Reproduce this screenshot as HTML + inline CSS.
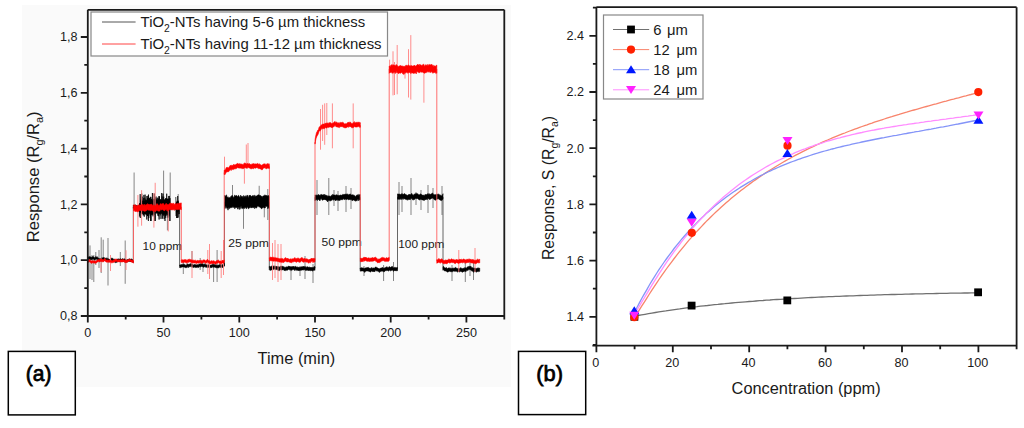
<!DOCTYPE html>
<html><head><meta charset="utf-8"><title>Figure</title>
<style>html,body{margin:0;padding:0;background:#fff;width:1024px;height:428px;overflow:hidden;font-family:"Liberation Sans",sans-serif}svg{display:block}</style>
</head><body>
<svg width="1024" height="428" viewBox="0 0 1024 428"><rect x="22" y="5" width="489" height="382" fill="#fafafa"/><text x="142.6" y="249.9" font-size="11.6" textLength="39.6" lengthAdjust="spacingAndGlyphs" font-family="Liberation Sans, sans-serif" fill="#1a1a1a">10 ppm</text><text x="228.2" y="246.9" font-size="11.6" textLength="40.7" lengthAdjust="spacingAndGlyphs" font-family="Liberation Sans, sans-serif" fill="#1a1a1a">25 ppm</text><text x="321.4" y="245.8" font-size="11.6" textLength="40.4" lengthAdjust="spacingAndGlyphs" font-family="Liberation Sans, sans-serif" fill="#1a1a1a">50 ppm</text><text x="398.2" y="247.8" font-size="11.6" textLength="46.2" lengthAdjust="spacingAndGlyphs" font-family="Liberation Sans, sans-serif" fill="#1a1a1a">100 ppm</text><path d="M90 245.4V279M92 255V280M93.8 255V282M95.8 252V265M99 250V268M101.2 237.3V273M103.2 239.7V262M108 238V285.5M120.3 252V266M125.2 240.5V283.8M134.1 172.5V207M163.6 170.6V207M170.2 172.5V221M167.4 207V230.4M178.2 194V207M183.3 262V274M192 251V268M200.2 258V270M203 262V272M213.6 262V282M217.1 250V282M232.5 185V203M259.2 185.8V203M267.8 189V220M243.5 203V228.8M264.3 203V217.3M291 266V280M300 266V276M305 256V279M313 264V283M317 180V215M328.8 178V215M334 190V206M338 191V211M346 186V212M351 188V209M364 266V276M383.6 265V281M393.5 262V281M399 182V215M402 186V212M411 178V215M416 192V205M421 190V210M428 185V213M433 188V208M442 186V215M452 265V281M465.3 262V282M473.5 262V280M470 262V276" fill="none" stroke="#707070" stroke-width="0.85"/><path d="M133.3 261V207M179.6 207V265.8M224.5 265.8V201.9M269.3 201.9V268.4M315 268.4V197.3M360.2 197.3V269.4M397.5 269.4V196.9M443 196.9V269.5" fill="none" stroke="#555" stroke-width="0.9"/><path d="M139.3 207.2 L139.4 216.5 L139.5 215.6 L139.6 203.4 L139.7 204.9 L139.8 203.3 L139.9 211 L140 206.6 L140.1 212.2 L140.2 194.1 L140.3 218 L140.4 206.3 L140.5 211.8 L140.6 206 L140.7 204.3 L140.8 210.2 L140.9 212.8 L141 205.6 L141.1 205.9 L141.2 211.8 L141.3 200.9 L141.4 196.4 L141.5 209.8 L141.6 202.3 L141.7 193.6 L141.8 201.3 L141.9 203.7 L142 198.6 L142.1 196.6 L142.2 207.3 L142.3 213.3 L142.4 205.4 L142.5 201.8 L142.6 209.7 L142.7 212 L142.8 204.9 L142.9 210.8 L143 214.3 L143.1 205.6 L143.2 201.3 L143.3 209.4 L143.4 208.7 L143.5 214.7 L143.6 198 L143.7 202.4 L143.8 201.1 L143.9 194.9 L144 207.9 L144.1 210.7 L144.2 201.8 L144.3 216.7 L144.4 212.8 L144.5 211.4 L144.6 209.8 L144.7 213.7 L144.8 197.7 L144.9 211.3 L145 211.2 L145.1 194.6 L145.2 209.4 L145.3 205.2 L145.4 212.5 L145.5 203.9 L145.6 206.9 L145.7 209.4 L145.8 200.9 L145.9 211.2 L146 206.3 L146.1 210.4 L146.2 203.3 L146.3 214.6 L146.4 211.2 L146.5 205.8 L146.6 211.4 L146.7 215.8 L146.8 219.5 L146.9 196 L147.1 213.2 L147.2 210.3 L147.3 206.3 L147.4 200 L147.5 215.8 L147.6 198.2 L147.7 211 L147.8 216.1 L147.9 195.8 L148 204.9 L148.1 197.8 L148.2 208.7 L148.3 217.6 L148.4 221 L148.5 194.6 L148.6 203 L148.7 211.9 L148.8 218.1 L148.9 209.9 L149 201.8 L149.1 209.1 L149.2 206.9 L149.3 205.6 L149.4 201.9 L149.5 209.7 L149.6 209.2 L149.7 206.3 L149.8 205.4 L149.9 198 L150 203.6 L150.1 215.4 L150.2 205.7 L150.3 196.9 L150.4 216.3 L150.5 210.7 L150.6 221 L150.7 207.4 L150.8 203.8 L150.9 196.9 L151 216.3 L151.1 221 L151.2 201.3 L151.3 202.5 L151.4 211.2 L151.5 201.2 L151.6 205.1 L151.7 204.6 L151.8 208.3 L151.9 214.7 L152 207.2 L152.1 213.4 L152.2 204.1 L152.3 209.3 L152.4 193 L152.5 196.9 L152.6 212.6 L152.7 202.9 L152.8 211.1 L152.9 210.8 L153 216.3 L153.1 212.7 L153.2 214.1 L153.3 206.2 L153.4 202.1 L153.5 201.9 L153.6 203.6 L153.7 199.1 L153.8 203.2 L153.9 206.4 L154 208.8 L154.1 204.6 L154.2 193.5 L154.3 206.5 L154.4 208.6 L154.5 214.6 L154.6 211 L154.7 202.5 L154.8 201.9 L154.9 221 L155 212.3 L155.1 219.8 L155.2 221 L155.3 201.3 L155.4 209.7 L155.5 210.2 L155.6 210.9 L155.7 210.8 L155.8 208.4 L155.9 208.2 L156 196.5 L156.1 205.8 L156.2 201.8 L156.3 207.9 L156.4 203.7 L156.5 211.3 L156.6 212.7 L156.7 209.2 L156.8 209.2 L156.9 207.7 L157 203.9 L157.1 205.8 L157.2 203.5 L157.3 209.7 L157.4 207.1 L157.5 211.1 L157.6 197.7 L157.7 213.2 L157.8 201.7 L157.9 201.9 L158 205.6 L158.1 203.1 L158.2 209 L158.3 203 L158.4 199.5 L158.5 201.1 L158.6 216.2 L158.7 207.3 L158.8 198.8 L158.9 207.1 L159 196.1 L159.1 219.5 L159.2 196.3 L159.3 210.4 L159.4 210.8 L159.5 196.8 L159.6 209.1 L159.7 214 L159.8 210.3 L159.9 208.8 L160 213.6 L160.1 208.1 L160.2 209.4 L160.3 206.1 L160.4 211.4 L160.5 200.4 L160.6 212.5 L160.7 203.5 L160.8 199.4 L160.9 209.6 L161 218.9 L161.1 213.7 L161.2 203.4 L161.3 211.9 L161.4 203.8 L161.5 206.1 L161.6 207.6 L161.7 193 L161.8 208.3 L161.9 199.8 L162 202.1 L162.1 196.7 L162.2 196.4 L162.3 200.4 L162.4 212.8 L162.6 218.7 L162.7 206.8 L162.8 214.6 L162.9 205.2 L163 193.6 L163.1 208 L163.2 210.1 L163.3 204 L163.4 209.1 L163.5 211 L163.6 201 L163.7 196.7 L163.8 205.5 L163.9 205.5 L164 204.5 L164.1 213.9 L164.2 219.1 L164.3 204.1 L164.4 211.9 L164.5 213.6 L164.6 212 L164.7 214.3 L164.8 204.3 L164.9 212.2 L165 221 L165.1 212.6 L165.2 202.7 L165.3 211.3 L165.4 215.8 L165.5 209.6 L165.6 203.1 L165.7 217.8 L165.8 198.3 L165.9 210.5 L166 206.9 L166.1 198.6 L166.2 215.5 L166.3 209.4 L166.4 198.8 L166.5 211.2 L166.6 204 L166.7 193.7 L166.8 202.2 L166.9 208.8 L167 211.4 L167.1 208.2 L167.2 207.3 L167.3 210.3 L167.4 205.5 L167.5 215.2 L167.6 208 L167.7 209.1 L167.8 210.8 L167.9 199.6 L168 202 L168.1 217.7 L168.2 209.3 L168.3 205 L168.4 209.4 L168.5 203.6 L168.6 208.9 L168.7 202.3 L168.8 208.9 L168.9 196 L169 216.3 L169.1 203.4 L169.2 195.9 L169.3 205.4 L169.4 204.4 L169.5 208.1 L169.6 199 L169.7 209.8 L169.8 221 L169.9 198 L170 209.4 L170.1 204.8 L170.2 208.3M175.8 197 L175.9 200.7 L176 209.5 L176.1 206.8 L176.2 216 L176.3 203.1 L176.4 208 L176.5 218 L176.7 202.8 L176.8 202 L176.9 206.8 L177 206.8 L177.1 211.6 L177.2 207.7 L177.3 202.8 L177.4 208.2 L177.5 218 L177.6 214 L177.7 196 L177.8 206.2 L177.9 202.2 L178 210.4 L178.1 206 L178.2 217.6 L178.3 212.1 L178.5 211.9 L178.6 208 L178.7 206.8 L178.8 208.9 L178.9 214.1 L179 209.9 L179.1 205.1 L179.2 214" fill="none" stroke="#000" stroke-width="0.7" stroke-linejoin="round"/><path d="M140.5 198.8 L141 200.8 L141.5 199.6 L142 198.9 L142.5 200.7 L143 201.2 L143.5 201 L144 200.7 L144.5 201.6 L145 200.8 L145.5 198.9 L146 199.3 L146.5 200.6 L147 198.9 L147.5 199.6 L148 198.9 L148.5 199.7 L149 198.6 L149.5 197.9 L150 198.4 L150.5 201.1 L151 198.7 L151.5 199.2 L152 198.3 L152.5 200.9 L153 199.2 L153.5 200.2 L154 197.9 L154.5 199.6 L155 199.1 L155.5 196.8 L156 197.6 L156.5 198.6 L157 200.1 L157.5 199.8 L158 198.7 L158.5 198 L159 200.3 L159.5 201.1 L160 200.5 L160.5 198.8 L161 199.5 L161.5 200.7 L162 199.8 L162.5 199.2 L163 201.4 L163.5 199.2 L164 198.8 L164.5 199.4 L165 199.5 L165.5 198.1 L166 199.1 L166.5 197.9 L167 199.3 L167.5 198.5 L168 198 L168.5 199.6 L169 198.3 L169.5 200.1 L169.5 214.8 L169 214.2 L168.5 215.5 L168 214.7 L167.5 212.5 L167 214.5 L166.5 214.1 L166 216.1 L165.5 215.7 L165 212.8 L164.5 215.7 L164 214.2 L163.5 216.2 L163 216 L162.5 213.5 L162 214.3 L161.5 214.1 L161 213.2 L160.5 215.4 L160 215.4 L159.5 213.4 L159 213.8 L158.5 213.3 L158 216.1 L157.5 215.8 L157 212.6 L156.5 214 L156 213.6 L155.5 212.1 L155 214.5 L154.5 212.9 L154 213.9 L153.5 214.5 L153 214.8 L152.5 214.8 L152 214.4 L151.5 214.8 L151 215.7 L150.5 214.5 L150 214.3 L149.5 213.5 L149 214.1 L148.5 213.7 L148 214.6 L147.5 213.1 L147 215.7 L146.5 213.5 L146 215.7 L145.5 214.3 L145 214.2 L144.5 214.1 L144 213.9 L143.5 215.5 L143 216.4 L142.5 213.3 L142 214.1 L141.5 214.7 L141 213.5 L140.5 213.1ZM176.3 200.1 L176.8 201.7 L177.3 200.9 L177.8 200.9 L178.3 200.3 L178.8 201.3 L178.8 211.4 L178.3 211.6 L177.8 212.3 L177.3 212.4 L176.8 212.4 L176.3 212.5Z" fill="#000"/><path d="M87.8 256.6 L88.3 256.9 L88.8 256.9 L89.3 256.6 L89.8 256.8 L90.3 256.8 L90.8 257.1 L91.3 257.1 L91.8 257.5 L92.3 256.6 L92.8 256.7 L93.3 256.5 L93.8 257 L94.3 257.7 L94.8 257.6 L95.3 257.3 L95.8 256.4 L96.3 256.8 L96.8 257.3 L97.3 256.7 L97.8 258 L98.3 258 L98.8 258.3 L99.3 258.6 L99.8 258.8 L100.3 258.6 L100.8 258.3 L101.3 258.8 L101.8 257.8 L102.3 258 L102.8 257.7 L103.3 258 L103.8 257.2 L104.3 258 L104.8 257.9 L105.3 257.9 L105.8 258.4 L106.3 258.4 L106.8 257.7 L107.3 258.9 L107.8 258.4 L108.3 259 L108.8 258.9 L109.3 259.3 L109.8 259.5 L110.3 258.8 L110.8 258.4 L111.3 258.1 L111.8 258.4 L112.3 258.1 L112.8 259.1 L113.3 258.8 L113.8 259.4 L114.3 259.2 L114.8 259.5 L115.3 259.9 L115.8 260.5 L116.3 260.1 L116.8 259.8 L117.3 259.3 L117.8 258.8 L118.3 258.9 L118.8 259 L119.3 259.2 L119.8 259 L120.3 258.9 L120.8 258.7 L121.3 259.3 L121.8 259.2 L122.3 258.7 L122.8 258.7 L123.3 259.3 L123.8 258.8 L124.3 259.1 L124.8 258.8 L125.3 259.8 L125.8 260.1 L126.3 259.8 L126.8 260 L127.3 259.4 L127.8 259.6 L128.3 259.4 L128.8 258.9 L129.3 259 L129.8 258.8 L130.3 259.5 L130.8 259.1 L131.3 259.2 L131.8 258.8 L132.3 259.8 L132.8 259.7 L133.3 260 L133.3 262.6 L132.8 262.3 L132.3 262.1 L131.8 261.2 L131.3 261.4 L130.8 261.5 L130.3 262 L129.8 261.2 L129.3 261.4 L128.8 261.1 L128.3 261.5 L127.8 261.7 L127.3 262 L126.8 262.5 L126.3 262.2 L125.8 262.6 L125.3 262.3 L124.8 261.6 L124.3 261.5 L123.8 261.1 L123.3 261.7 L122.8 261.2 L122.3 261.1 L121.8 261.7 L121.3 261.5 L120.8 260.9 L120.3 261.1 L119.8 261.6 L119.3 261.4 L118.8 261.1 L118.3 261.3 L117.8 261.6 L117.3 261.9 L116.8 262.2 L116.3 262.4 L115.8 262.7 L115.3 262.6 L114.8 262.1 L114.3 262 L113.8 261.7 L113.3 261.6 L112.8 261.6 L112.3 260.8 L111.8 260.7 L111.3 260.2 L110.8 260.9 L110.3 261.3 L109.8 261.7 L109.3 261.8 L108.8 261.5 L108.3 261.5 L107.8 261.2 L107.3 261.4 L106.8 260.2 L106.3 260.7 L105.8 260.7 L105.3 260.3 L104.8 260.7 L104.3 260.3 L103.8 259.7 L103.3 260.4 L102.8 260 L102.3 260.4 L101.8 260.6 L101.3 261.3 L100.8 260.8 L100.3 261.2 L99.8 261.2 L99.3 260.8 L98.8 260.7 L98.3 260.3 L97.8 260.1 L97.3 259.2 L96.8 259.4 L96.3 259 L95.8 258.9 L95.3 259.6 L94.8 259.9 L94.3 259.9 L93.8 259.2 L93.3 259 L92.8 259 L92.3 259.4 L91.8 259.9 L91.3 259.4 L90.8 259.7 L90.3 259.6 L89.8 259.7 L89.3 259 L88.8 259.4 L88.3 259.5 L87.8 259.1ZM133.3 205 L133.8 205.5 L134.3 206 L134.8 205.3 L135.3 204.8 L135.8 205.2 L136.3 205.4 L136.8 205.5 L137.3 205.5 L137.8 205.6 L138.3 205.3 L138.8 205.5 L139.3 206 L139.8 205.8 L140.3 205.5 L140.8 205.1 L141.4 204.4 L141.9 205.1 L142.4 205.3 L142.9 205.6 L143.4 205.2 L143.9 205.4 L144.4 205.5 L144.9 205.4 L145.4 205.8 L145.9 205.7 L146.4 204.8 L146.9 205.5 L147.4 206.3 L147.9 205.6 L148.4 206.6 L148.9 206.7 L149.4 207.2 L149.9 206.8 L150.4 206 L150.9 205.7 L151.4 205.7 L151.9 205.7 L152.4 204.4 L152.9 205.2 L153.4 205 L153.9 204.8 L154.4 205.4 L154.9 205 L155.4 205.2 L155.9 205.4 L156.4 205.8 L157 206.3 L157.5 206.2 L158 206.1 L158.5 205.9 L159 206.8 L159.5 205.7 L160 206.3 L160.5 205.3 L161 206.5 L161.5 206.1 L162 205.9 L162.5 205.7 L163 205 L163.5 205.3 L164 204.5 L164.5 204.5 L165 204.2 L165.5 204.5 L166 204.8 L166.5 205.1 L167 205.2 L167.5 204.5 L168 205.2 L168.5 204.7 L169 204.4 L169.5 205.3 L170 205.1 L170.5 205.7 L171 205.6 L171.5 205.6 L172.1 205.5 L172.6 205.6 L173.1 205.4 L173.6 205.5 L174.1 205.7 L174.6 205.7 L175.1 205.9 L175.6 205.7 L176.1 205.6 L176.6 206 L177.1 206.4 L177.6 206.3 L178.1 206.7 L178.6 206.1 L179.1 206.4 L179.6 206.4 L179.6 209.8 L179.1 209.8 L178.6 209.8 L178.1 210.1 L177.6 209.4 L177.1 209.5 L176.6 209.5 L176.1 208.8 L175.6 208.7 L175.1 209.3 L174.6 209.1 L174.1 208.5 L173.6 209.1 L173.1 208.9 L172.6 208.6 L172.1 208.8 L171.5 209.2 L171 208.5 L170.5 209.1 L170 208 L169.5 208.4 L169 208 L168.5 207.8 L168 208.1 L167.5 207.9 L167 208.1 L166.5 208.4 L166 208.4 L165.5 208.2 L165 207.5 L164.5 207.5 L164 207.7 L163.5 208.6 L163 208.6 L162.5 209.2 L162 208.6 L161.5 209.6 L161 209.7 L160.5 209 L160 209.5 L159.5 209.4 L159 210.1 L158.5 209.3 L158 209.3 L157.5 209 L157 209.5 L156.4 209.3 L155.9 208.8 L155.4 208.3 L154.9 208.6 L154.4 208.8 L153.9 208.1 L153.4 208.5 L152.9 208.5 L152.4 208.1 L151.9 208.6 L151.4 209.1 L150.9 208.9 L150.4 209.2 L149.9 210.1 L149.4 210.3 L148.9 210 L148.4 209.5 L147.9 208.7 L147.4 209.6 L146.9 209 L146.4 208.5 L145.9 208.7 L145.4 209 L144.9 208.4 L144.4 208.3 L143.9 208.9 L143.4 208.6 L142.9 209 L142.4 208.5 L141.9 208.7 L141.4 208.4 L140.8 208.5 L140.3 209 L139.8 209.1 L139.3 209.7 L138.8 209.1 L138.3 208.9 L137.8 208.7 L137.3 208.6 L136.8 208.4 L136.3 208.3 L135.8 208.6 L135.3 208.1 L134.8 208.6 L134.3 209.2 L133.8 208.5 L133.3 208.4ZM179.6 265 L180.1 265 L180.6 264.7 L181.1 264.5 L181.6 264.6 L182.1 264.7 L182.6 264.3 L183.1 264.3 L183.6 264.3 L184.1 264.4 L184.6 264.2 L185.1 264.9 L185.7 265.2 L186.2 264.9 L186.7 265.2 L187.2 263.6 L187.7 264.2 L188.2 264.7 L188.7 264.1 L189.2 263.9 L189.7 264.3 L190.2 264.1 L190.7 263.5 L191.2 263.7 L191.7 264.3 L192.2 264.2 L192.7 264.6 L193.2 264.8 L193.7 264.9 L194.2 264.8 L194.7 264.2 L195.2 264.9 L195.7 264.5 L196.2 264.7 L196.8 265.1 L197.3 264.4 L197.8 264.9 L198.3 264.5 L198.8 264.8 L199.3 264 L199.8 264 L200.3 264.2 L200.8 263.8 L201.3 263.5 L201.8 264 L202.3 263.7 L202.8 264 L203.3 264.3 L203.8 264.6 L204.3 264.2 L204.8 263.8 L205.3 263.9 L205.8 265.1 L206.3 264.8 L206.8 264.8 L207.3 265 L207.9 265 L208.4 264.7 L208.9 264.8 L209.4 264.7 L209.9 264.8 L210.4 265.3 L210.9 264.9 L211.4 264.9 L211.9 264.8 L212.4 264.2 L212.9 264.2 L213.4 264.6 L213.9 264.5 L214.4 264.7 L214.9 264.5 L215.4 265.3 L215.9 264.5 L216.4 265.1 L216.9 265.5 L217.4 265 L217.9 265.4 L218.4 265.1 L219 265.1 L219.5 264.4 L220 264.8 L220.5 264.5 L221 264.4 L221.5 264.9 L222 264.5 L222.5 264.7 L223 264.3 L223.5 263.9 L224 263.6 L224.5 263.5 L224.5 266.1 L224 266.5 L223.5 266.7 L223 267.4 L222.5 267.5 L222 267.3 L221.5 267.3 L221 266.9 L220.5 267.5 L220 267.3 L219.5 266.8 L219 267.9 L218.4 267.8 L217.9 268 L217.4 267.5 L216.9 268.2 L216.4 267.4 L215.9 267.4 L215.4 267.5 L214.9 267.3 L214.4 267.1 L213.9 267.4 L213.4 267.1 L212.9 266.8 L212.4 266.9 L211.9 267.8 L211.4 267.5 L210.9 267.5 L210.4 267.7 L209.9 267.3 L209.4 267.4 L208.9 267.5 L208.4 267.3 L207.9 267.5 L207.3 267.4 L206.8 267.2 L206.3 267.3 L205.8 267.4 L205.3 266.8 L204.8 266.8 L204.3 266.7 L203.8 267.4 L203.3 267 L202.8 267.1 L202.3 266.5 L201.8 266.6 L201.3 266.5 L200.8 266.7 L200.3 266.9 L199.8 266.6 L199.3 266.7 L198.8 267.5 L198.3 267.3 L197.8 267.6 L197.3 267 L196.8 267.6 L196.2 267.3 L195.7 267.5 L195.2 267.4 L194.7 267.1 L194.2 267.2 L193.7 267.7 L193.2 267.1 L192.7 267.2 L192.2 266.7 L191.7 266.5 L191.2 266.6 L190.7 266.4 L190.2 266.8 L189.7 266.8 L189.2 266.7 L188.7 266.7 L188.2 267.8 L187.7 267.3 L187.2 266.5 L186.7 267.5 L186.2 267.8 L185.7 267.9 L185.1 267.3 L184.6 267.2 L184.1 267 L183.6 267 L183.1 266.9 L182.6 266.9 L182.1 267.1 L181.6 267.3 L181.1 267.2 L180.6 267.6 L180.1 267.7 L179.6 267.6ZM224.5 195.6 L225 195.4 L225.5 197 L226 195.2 L226.5 194.9 L227 197.1 L227.5 197.5 L228 196.7 L228.5 198 L229 197.8 L229.5 197.6 L230 197.4 L230.5 197.2 L231 196.2 L231.5 196.3 L232.1 195.2 L232.6 195.8 L233.1 197.1 L233.6 197.4 L234.1 196.8 L234.6 195.2 L235.1 195.5 L235.6 196.1 L236.1 195.4 L236.6 195.5 L237.1 196.5 L237.6 196.4 L238.1 195.7 L238.6 195.3 L239.1 196.6 L239.6 196.9 L240.1 197.5 L240.6 195.2 L241.1 196.5 L241.6 195.9 L242.1 197.4 L242.6 196.4 L243.1 197.5 L243.6 195.6 L244.1 195.8 L244.6 197 L245.1 197.3 L245.6 195.9 L246.1 195.5 L246.6 197.4 L247.2 195.1 L247.7 195.5 L248.2 197.4 L248.7 197.1 L249.2 195.1 L249.7 195.9 L250.2 195.2 L250.7 195.6 L251.2 196.5 L251.7 196.3 L252.2 195.9 L252.7 195.5 L253.2 196.8 L253.7 195.4 L254.2 196.6 L254.7 195.2 L255.2 195.6 L255.7 196.9 L256.2 196 L256.7 195.9 L257.2 195.6 L257.7 195 L258.2 195 L258.7 194.7 L259.2 194.9 L259.7 195.4 L260.2 195.6 L260.7 195.6 L261.2 196.3 L261.7 196.2 L262.3 197.5 L262.8 196.1 L263.3 196.1 L263.8 195.7 L264.3 195.7 L264.8 194.8 L265.3 195 L265.8 196.1 L266.3 195.6 L266.8 195.5 L267.3 195.6 L267.8 196.2 L268.3 195.6 L268.8 195.6 L269.3 196.9 L269.3 208.5 L268.8 207.2 L268.3 208.1 L267.8 208.8 L267.3 206 L266.8 206.5 L266.3 206.2 L265.8 206 L265.3 207.9 L264.8 207.9 L264.3 208 L263.8 207.4 L263.3 207.1 L262.8 208.2 L262.3 207.1 L261.7 208.9 L261.2 208.6 L260.7 207.2 L260.2 207.7 L259.7 206.4 L259.2 207.2 L258.7 206.1 L258.2 206.4 L257.7 206.3 L257.2 206.2 L256.7 208 L256.2 208.1 L255.7 207.5 L255.2 207.8 L254.7 208.7 L254.2 207 L253.7 207.6 L253.2 207.7 L252.7 207.7 L252.2 207 L251.7 207.9 L251.2 207.7 L250.7 206.5 L250.2 208 L249.7 208 L249.2 207.1 L248.7 208.8 L248.2 208.6 L247.7 207.5 L247.2 206.7 L246.6 208.4 L246.1 208.7 L245.6 207.3 L245.1 207.8 L244.6 207.8 L244.1 208.8 L243.6 207.8 L243.1 208.1 L242.6 208.6 L242.1 208.6 L241.6 208.3 L241.1 206.3 L240.6 207 L240.1 209.2 L239.6 209.4 L239.1 207.3 L238.6 207 L238.1 209.3 L237.6 208.9 L237.1 207.1 L236.6 207.8 L236.1 207.1 L235.6 207.5 L235.1 208.4 L234.6 208.5 L234.1 207 L233.6 206.7 L233.1 207.7 L232.6 206.5 L232.1 207.5 L231.5 207.6 L231 207.6 L230.5 207.7 L230 208.3 L229.5 208.6 L229 207.6 L228.5 207.9 L228 210.2 L227.5 208 L227 207.9 L226.5 206.6 L226 208.6 L225.5 207.2 L225 205.7 L224.5 208.5ZM269.3 266.3 L269.8 266.5 L270.3 266.6 L270.8 266.7 L271.3 266.3 L271.8 266.1 L272.3 266.2 L272.8 266.2 L273.3 266.2 L273.8 265.9 L274.3 266.2 L274.8 265.7 L275.3 266.1 L275.8 267 L276.3 266.6 L276.8 266.1 L277.3 266.9 L277.8 266.4 L278.3 267 L278.8 266.6 L279.3 267.2 L279.8 266.8 L280.3 266.2 L280.9 266.2 L281.4 266.1 L281.9 266.6 L282.4 265.9 L282.9 266.4 L283.4 266.5 L283.9 267.3 L284.4 267.5 L284.9 266.7 L285.4 267.5 L285.9 267.3 L286.4 266.9 L286.9 266.7 L287.4 267 L287.9 266.5 L288.4 266.3 L288.9 266 L289.4 266.5 L289.9 266.3 L290.4 266.8 L290.9 267 L291.4 266.9 L291.9 266.6 L292.4 266.7 L292.9 266.2 L293.4 266.7 L293.9 266.1 L294.4 266.9 L294.9 267.2 L295.4 266.2 L295.9 266.6 L296.4 266.9 L296.9 267.3 L297.4 267.2 L297.9 266.8 L298.4 267.3 L298.9 267.5 L299.4 266.9 L299.9 267.4 L300.4 266.9 L300.9 267.2 L301.4 266.8 L301.9 266.7 L302.4 266.7 L302.9 266.4 L303.4 266.6 L304 266.2 L304.5 267 L305 266.4 L305.5 266.8 L306 267.4 L306.5 267.2 L307 266.5 L307.5 266.9 L308 267.1 L308.5 267.3 L309 267.3 L309.5 267.1 L310 267.5 L310.5 267.6 L311 267 L311.5 267.7 L312 267.3 L312.5 267.6 L313 267.7 L313.5 267.1 L314 267.4 L314.5 266.3 L315 267 L315 270.4 L314.5 270.1 L314 270.2 L313.5 270.3 L313 270.7 L312.5 271 L312 270.8 L311.5 270.5 L311 270.6 L310.5 270.7 L310 270.6 L309.5 270.5 L309 270.2 L308.5 270.5 L308 270.8 L307.5 270 L307 270.2 L306.5 270.3 L306 270.6 L305.5 270.4 L305 269.5 L304.5 269.7 L304 269.8 L303.4 270 L302.9 269.9 L302.4 269.9 L301.9 270.2 L301.4 269.9 L300.9 270.6 L300.4 270.1 L299.9 270.6 L299.4 270.2 L298.9 271 L298.4 270.2 L297.9 270.4 L297.4 270.2 L296.9 270.5 L296.4 270.2 L295.9 269.3 L295.4 270.1 L294.9 270.7 L294.4 269.9 L293.9 269.5 L293.4 269.6 L292.9 269.3 L292.4 270.1 L291.9 270.1 L291.4 270.2 L290.9 270.6 L290.4 269.8 L289.9 269.7 L289.4 269.8 L288.9 269.4 L288.4 269.2 L287.9 270 L287.4 270.2 L286.9 270.2 L286.4 270.2 L285.9 270.6 L285.4 270.6 L284.9 269.9 L284.4 270.8 L283.9 270.3 L283.4 269.6 L282.9 270.1 L282.4 269.7 L281.9 270.2 L281.4 270 L280.9 269.5 L280.3 270.1 L279.8 270.1 L279.3 270.7 L278.8 270.4 L278.3 270.4 L277.8 270.3 L277.3 269.5 L276.8 269.3 L276.3 269.8 L275.8 269.9 L275.3 269 L274.8 269.1 L274.3 269.2 L273.8 269.3 L273.3 269.6 L272.8 269.3 L272.3 269.6 L271.8 269.9 L271.3 270 L270.8 270.3 L270.3 270.3 L269.8 270.3 L269.3 269.8ZM315 194.8 L315.5 195.1 L316 195.6 L316.5 194.9 L317 195.2 L317.5 195.2 L318 194.7 L318.5 194.6 L319 194.9 L319.5 195 L320 195.7 L320.5 194.7 L321 194.4 L321.5 194.4 L322 195 L322.5 194.8 L323 195.3 L323.5 194.5 L324 195.2 L324.5 194.3 L325 195.7 L325.5 195 L326 194.8 L326.6 196 L327.1 195.5 L327.6 196.3 L328.1 196.3 L328.6 195.9 L329.1 195.9 L329.6 195.9 L330.1 196.5 L330.6 196.6 L331.1 195.7 L331.6 195.2 L332.1 195.6 L332.6 194.4 L333.1 194.4 L333.6 195 L334.1 195.1 L334.6 195.1 L335.1 195.3 L335.6 195.2 L336.1 194.6 L336.6 195 L337.1 195 L337.6 195.3 L338.1 195.5 L338.6 195.3 L339.1 195.3 L339.6 195.5 L340.1 195.1 L340.6 194.9 L341.1 195.6 L341.6 195 L342.1 194.9 L342.6 194.4 L343.1 194.7 L343.6 194.4 L344.1 194 L344.6 194.5 L345.1 194.5 L345.6 194.1 L346.1 194.1 L346.6 194.5 L347.1 193.7 L347.6 194.6 L348.1 194.2 L348.6 195.3 L349.2 194.3 L349.7 194.6 L350.2 193.8 L350.7 194.6 L351.2 194.9 L351.7 194.9 L352.2 195.1 L352.7 194.6 L353.2 195.4 L353.7 194.8 L354.2 195.6 L354.7 195.7 L355.2 196.2 L355.7 196.4 L356.2 195.7 L356.7 195.1 L357.2 195.3 L357.7 194.7 L358.2 194.3 L358.7 195.4 L359.2 194.9 L359.7 194.6 L360.2 194.5 L360.2 200 L359.7 199.9 L359.2 199.5 L358.7 200.8 L358.2 199.6 L357.7 199.3 L357.2 200.8 L356.7 200.5 L356.2 200.9 L355.7 201.3 L355.2 200.7 L354.7 200.7 L354.2 200.2 L353.7 200.1 L353.2 200 L352.7 200.5 L352.2 200.7 L351.7 200.2 L351.2 199.2 L350.7 199.8 L350.2 199.4 L349.7 199.4 L349.2 199.7 L348.6 199.9 L348.1 199.2 L347.6 198.9 L347.1 199.5 L346.6 199.5 L346.1 199.3 L345.6 199.3 L345.1 199 L344.6 199.6 L344.1 199.5 L343.6 199 L343.1 198.8 L342.6 199.8 L342.1 199.7 L341.6 199.4 L341.1 200.1 L340.6 200.1 L340.1 199.6 L339.6 200.8 L339.1 200.1 L338.6 200 L338.1 200.7 L337.6 200.1 L337.1 199.8 L336.6 199.9 L336.1 200.4 L335.6 201 L335.1 200.1 L334.6 199.3 L334.1 199.9 L333.6 200.2 L333.1 199.4 L332.6 199.3 L332.1 200.3 L331.6 200.2 L331.1 200.2 L330.6 201.1 L330.1 200.7 L329.6 200.8 L329.1 200.2 L328.6 200.6 L328.1 200.5 L327.6 201.9 L327.1 200.4 L326.6 200.6 L326 200 L325.5 199.7 L325 199.9 L324.5 199 L324 200 L323.5 199.6 L323 200 L322.5 200.2 L322 199.9 L321.5 198.8 L321 198.8 L320.5 198.9 L320 200.9 L319.5 200.5 L319 199.7 L318.5 199.4 L318 199.6 L317.5 200.6 L317 199.4 L316.5 199.8 L316 199.9 L315.5 200.1 L315 200.6ZM360.2 268 L360.7 267.9 L361.2 267.8 L361.7 267.7 L362.2 267.8 L362.7 268.1 L363.2 267.9 L363.7 268.2 L364.2 268.4 L364.7 268.6 L365.2 267.8 L365.7 268.1 L366.2 267.9 L366.8 267.5 L367.3 267.6 L367.8 267.6 L368.3 267.3 L368.8 268.1 L369.3 268.2 L369.8 268.1 L370.3 268.6 L370.8 268.3 L371.3 267.4 L371.8 268.2 L372.3 267.8 L372.8 268.5 L373.3 268.1 L373.8 267.9 L374.3 268.1 L374.8 268.2 L375.3 267 L375.8 267.1 L376.3 267.3 L376.8 267.4 L377.3 267.7 L377.8 268 L378.3 268.5 L378.9 268.5 L379.4 269 L379.9 268.3 L380.4 268.3 L380.9 268.1 L381.4 267.9 L381.9 268 L382.4 267.3 L382.9 268.3 L383.4 267.8 L383.9 268.8 L384.4 267.8 L384.9 268.1 L385.4 267.7 L385.9 267.1 L386.4 267.3 L386.9 266.6 L387.4 267.5 L387.9 267.4 L388.4 267.4 L388.9 267 L389.4 266.5 L389.9 267.1 L390.4 267.6 L390.9 266.9 L391.5 266.8 L392 266.5 L392.5 266.4 L393 267.6 L393.5 267.9 L394 267.5 L394.5 267.4 L395 267.2 L395.5 267.4 L396 267.9 L396.5 267.4 L397 268.2 L397.5 267.4 L397.5 270.5 L397 271.1 L396.5 270.2 L396 271.1 L395.5 270.4 L395 270.9 L394.5 270.5 L394 270.6 L393.5 271.4 L393 270.8 L392.5 270.1 L392 270.1 L391.5 270.4 L390.9 270.8 L390.4 270.8 L389.9 270.6 L389.4 269.9 L388.9 270.7 L388.4 271.1 L387.9 270.8 L387.4 270.4 L386.9 270.1 L386.4 270.8 L385.9 270.9 L385.4 270.6 L384.9 271.2 L384.4 271.6 L383.9 272.1 L383.4 271 L382.9 271.4 L382.4 271 L381.9 271.4 L381.4 271.1 L380.9 271.1 L380.4 271.7 L379.9 271.8 L379.4 272.5 L378.9 271.5 L378.3 271.6 L377.8 270.8 L377.3 271.3 L376.8 270.9 L376.3 270.8 L375.8 270.4 L375.3 270.2 L374.8 272 L374.3 271.5 L373.8 271.3 L373.3 271.9 L372.8 271.4 L372.3 271.4 L371.8 270.9 L371.3 271.1 L370.8 272 L370.3 272.1 L369.8 271.8 L369.3 271.4 L368.8 271.4 L368.3 271 L367.8 271 L367.3 271 L366.8 271 L366.2 271.1 L365.7 271.3 L365.2 271.7 L364.7 272.5 L364.2 271.7 L363.7 271.2 L363.2 271 L362.7 271 L362.2 270.9 L361.7 271.1 L361.2 270.9 L360.7 271 L360.2 271.2ZM397.5 193.9 L398 194 L398.5 194.1 L399 194.2 L399.5 194.1 L400 194.3 L400.5 194.4 L401 193.9 L401.5 194.3 L402 193.5 L402.5 194.3 L403 194.2 L403.5 194.3 L404 194 L404.5 193.5 L405 193.9 L405.5 194.3 L406 195.2 L406.5 195 L407 194.7 L407.5 195.7 L408 195.1 L408.5 194.7 L409 194.5 L409.5 194 L410 194.8 L410.5 194.8 L411 194.2 L411.5 193.6 L412 193.6 L412.5 194.7 L413 195.3 L413.5 195.3 L414 194.2 L414.5 193.9 L415 194.5 L415.5 193.8 L416 193.3 L416.5 194.1 L417 193.5 L417.5 194.1 L418 193.7 L418.5 194.9 L419 194.8 L419.5 195.1 L420 194.1 L420.5 193.9 L421 194.3 L421.5 194.5 L422 195.1 L422.5 195.2 L423 194.8 L423.5 195.1 L424 195.8 L424.5 195.2 L425 194.4 L425.5 194.6 L426 194.8 L426.5 194.7 L427 194 L427.5 194.3 L428 193.4 L428.5 194.1 L429 194.7 L429.5 193.8 L430 193.9 L430.5 194.7 L431 193.8 L431.5 194.1 L432 193.3 L432.5 193.2 L433 193.4 L433.5 194.5 L434 195 L434.5 194.7 L435 194.3 L435.5 194.7 L436 194.7 L436.5 194.3 L437 194 L437.5 194.3 L438 194.4 L438.5 193.9 L439 194.3 L439.5 194.7 L440 195.4 L440.5 194.8 L441 195.9 L441.5 195.8 L442 196 L442.5 195.1 L443 193.7 L443 199.2 L442.5 199.4 L442 200.4 L441.5 200.6 L441 200.1 L440.5 200.4 L440 199.7 L439.5 199.6 L439 199.6 L438.5 198.6 L438 199.2 L437.5 198.8 L437 199.2 L436.5 199.2 L436 200 L435.5 200.2 L435 200.1 L434.5 199.7 L434 199.5 L433.5 198.9 L433 198.2 L432.5 198.1 L432 198.1 L431.5 198.5 L431 199 L430.5 199.1 L430 199.4 L429.5 199.5 L429 198.9 L428.5 198.5 L428 198.2 L427.5 199.6 L427 199.4 L426.5 199.2 L426 199.8 L425.5 199.5 L425 200.1 L424.5 199.8 L424 200.7 L423.5 199.9 L423 200 L422.5 199.9 L422 199.9 L421.5 199.3 L421 199.7 L420.5 198.7 L420 200.1 L419.5 200.1 L419 199.5 L418.5 199.3 L418 199 L417.5 198.4 L417 198.6 L416.5 198.6 L416 198.8 L415.5 198.1 L415 198.9 L414.5 199.6 L414 199.1 L413.5 200.1 L413 200 L412.5 199.8 L412 198.4 L411.5 198.4 L411 198.2 L410.5 199.4 L410 199.8 L409.5 199.5 L409 199.5 L408.5 199.6 L408 199.5 L407.5 200.3 L407 199.4 L406.5 199.6 L406 199.6 L405.5 199.3 L405 199.1 L404.5 199 L404 198.2 L403.5 199.1 L403 199.6 L402.5 198.5 L402 198.6 L401.5 199.5 L401 198.5 L400.5 199.3 L400 199.6 L399.5 199.2 L399 198.9 L398.5 199.3 L398 199.3 L397.5 199.2ZM443 267 L443.5 266.2 L444 267.4 L444.5 267.6 L445 267.9 L445.5 267.9 L446 267.7 L446.5 267.5 L447 268.4 L447.5 268.8 L448 268.1 L448.5 268 L449 268.1 L449.5 267.8 L450 268.4 L450.5 268.1 L451 268.5 L451.5 268.4 L452 268.3 L452.6 268.3 L453.1 267.8 L453.6 268.4 L454.1 268 L454.6 268.3 L455.1 267.5 L455.6 267.4 L456.1 267.8 L456.6 268.1 L457.1 268.7 L457.6 268.4 L458.1 268.3 L458.6 268.4 L459.1 268.9 L459.6 268.4 L460.1 268.2 L460.6 267.8 L461.1 267.7 L461.6 268.6 L462.1 268.7 L462.6 268.6 L463.1 268.6 L463.6 268.1 L464.1 268.5 L464.6 267.7 L465.1 267.4 L465.6 268 L466.1 268.2 L466.6 267.7 L467.1 267.2 L467.6 266.8 L468.1 267.2 L468.6 266.4 L469.1 266 L469.6 266.8 L470.1 266.2 L470.7 266.5 L471.2 266.6 L471.7 267.7 L472.2 268 L472.7 267.6 L473.2 267.8 L473.7 269.1 L474.2 268 L474.7 268.1 L475.2 268.3 L475.7 268.3 L476.2 268.4 L476.7 268.5 L477.2 268.3 L477.7 267.9 L478.2 267.8 L478.7 268.2 L479.2 268.3 L479.7 268.1 L479.7 271.3 L479.2 271.5 L478.7 271.8 L478.2 271.1 L477.7 271.3 L477.2 271.9 L476.7 272.2 L476.2 271.8 L475.7 271.9 L475.2 271.2 L474.7 271.3 L474.2 271.6 L473.7 272.4 L473.2 271.5 L472.7 270.9 L472.2 271.4 L471.7 270.4 L471.2 270.5 L470.7 269.9 L470.1 269.8 L469.6 269.6 L469.1 269.4 L468.6 269.6 L468.1 270.4 L467.6 270.6 L467.1 270 L466.6 270.4 L466.1 271.6 L465.6 271.5 L465.1 271.3 L464.6 270.9 L464.1 271.8 L463.6 271.4 L463.1 271.9 L462.6 272.1 L462.1 272.3 L461.6 271.7 L461.1 271.4 L460.6 271.3 L460.1 271.4 L459.6 272.1 L459.1 272 L458.6 271.4 L458.1 271.8 L457.6 272.2 L457.1 271.6 L456.6 271.3 L456.1 271.3 L455.6 271.3 L455.1 271.2 L454.6 271.2 L454.1 271.3 L453.6 271.1 L453.1 271.2 L452.6 271.3 L452 272.2 L451.5 271.5 L451 271.4 L450.5 271.6 L450 271.8 L449.5 271.1 L449 271.6 L448.5 271.7 L448 271.9 L447.5 272.1 L447 272.1 L446.5 271.3 L446 271 L445.5 271 L445 271 L444.5 271 L444 270.3 L443.5 269 L443 270.3Z" fill="#000" stroke="#000" stroke-width="0.6" stroke-linejoin="round"/><path d="M101 258V272M110.5 255V271M126 250.3V270M137.9 195V226.7M141.6 190.2V225.7M153.9 193V227.6M155.2 182.8V207M168.3 207V231.4M192 251V278M207.8 250V274M209.5 244V279M221.2 251V278M223.5 240V275M224.5 156.7V172M246.3 144.5V166M248 143V166M244.4 166V183.7M272.5 243V280M275 240V278M278 244V282M281 244V280M320.5 109V149.7M322.6 104.8V141M324.7 103.4V144.8M326.8 103V135M332.4 103.4V148.3M353.2 103.4V148.3M389.6 59.7V69M393 51.3V95.4M394.5 62V95M397.2 45V94.3M405 69V78.6M408.5 49.2V97.5M410.8 35.1V99.6M423.9 69V102.7M458.8 250V272M475 248V272" fill="none" stroke="#ff8080" stroke-width="0.9"/><path d="M133.5 261V208.4M181.3 206.8V261.7M224.2 261.7V172.5M269.4 166.3V258.9M315 260.4V142M360.3 125.1V258.6M389.2 259.8V69M436.8 69V261.3" fill="none" stroke="#ff6060" stroke-width="0.9"/><path d="M87.8 259.8 L88.3 260.4 L88.8 260 L89.3 259.7 L89.8 259.4 L90.3 260.3 L90.8 260.7 L91.3 261 L91.8 260.8 L92.3 260.7 L92.8 260.4 L93.3 261 L93.8 261 L94.3 260.6 L94.8 260.6 L95.3 261.3 L95.8 261.2 L96.3 260.7 L96.8 260.3 L97.3 260 L97.8 260.1 L98.3 259.7 L98.8 259.3 L99.4 259.5 L99.9 259.7 L100.4 259.5 L100.9 258.9 L101.4 259 L101.9 259.5 L102.4 259.3 L102.9 259.8 L103.4 259.9 L103.9 259.3 L104.4 258.6 L104.9 258.5 L105.4 259.2 L105.9 259.5 L106.4 260.4 L106.9 259.8 L107.4 260.3 L107.9 259.7 L108.4 260.2 L108.9 260.3 L109.4 259.7 L109.9 259.9 L110.4 260.4 L110.9 260.4 L111.4 260.2 L111.9 261.1 L112.4 260.8 L112.9 260.4 L113.4 260.1 L113.9 259.9 L114.4 259.6 L114.9 259.5 L115.4 259.2 L115.9 259 L116.4 259 L116.9 259.3 L117.4 259.9 L117.9 260.2 L118.4 259.8 L118.9 259.4 L119.4 259.8 L119.9 259.9 L120.4 259.7 L120.9 259.8 L121.4 259.7 L121.9 259.9 L122.5 259.6 L123 259.5 L123.5 259.4 L124 259.5 L124.5 259.9 L125 260.5 L125.5 260.1 L126 260.2 L126.5 260.4 L127 259.8 L127.5 259.9 L128 260.2 L128.5 259.6 L129 258.9 L129.5 259.3 L130 259.4 L130.5 259.4 L131 259.7 L131.5 260.1 L132 260 L132.5 260.1 L133 260.7 L133.5 260.6 L133.5 263 L133 263.1 L132.5 262.3 L132 261.8 L131.5 262.3 L131 261.9 L130.5 261.3 L130 261.3 L129.5 261.1 L129 261.1 L128.5 261.5 L128 262.2 L127.5 262 L127 262.1 L126.5 262.4 L126 262.2 L125.5 262.2 L125 262.8 L124.5 261.9 L124 261.9 L123.5 261.6 L123 261.7 L122.5 261.9 L121.9 262 L121.4 261.9 L120.9 262.1 L120.4 261.8 L119.9 262.1 L119.4 262 L118.9 261.4 L118.4 262 L117.9 262 L117.4 261.9 L116.9 261.5 L116.4 261.4 L115.9 261.3 L115.4 261.7 L114.9 262 L114.4 261.9 L113.9 262.1 L113.4 262.5 L112.9 262.5 L112.4 262.6 L111.9 263.2 L111.4 262.6 L110.9 262.6 L110.4 262.2 L109.9 261.7 L109.4 262 L108.9 262.6 L108.4 262 L107.9 262 L107.4 262.2 L106.9 261.9 L106.4 262.3 L105.9 261.7 L105.4 261.5 L104.9 260.5 L104.4 260.7 L103.9 261.5 L103.4 261.6 L102.9 262.2 L102.4 261.5 L101.9 261.4 L101.4 261.4 L100.9 261 L100.4 261.4 L99.9 262 L99.4 262 L98.8 261.6 L98.3 261.6 L97.8 262.1 L97.3 262.1 L96.8 262.6 L96.3 262.9 L95.8 262.9 L95.3 263.5 L94.8 263.2 L94.3 262.9 L93.8 262.8 L93.3 263.2 L92.8 262.5 L92.3 263.1 L91.8 263.4 L91.3 263.2 L90.8 263.1 L90.3 262.3 L89.8 261.9 L89.3 261.8 L88.8 261.9 L88.3 262.5 L87.8 262ZM133.5 205.7 L134 204.4 L134.5 205 L135 205.5 L135.5 205 L136 205.3 L136.5 206.2 L137 205.6 L137.5 206 L138 205.4 L138.5 204.7 L139 205.4 L139.5 204.9 L140 204.9 L140.5 205 L141 204.9 L141.6 204.8 L142.1 204.3 L142.6 204.6 L143.1 204.9 L143.6 205.5 L144.1 204.1 L144.6 205.5 L145.1 204.7 L145.6 205.8 L146.1 204.5 L146.6 204.7 L147.1 204.3 L147.6 203.6 L148.1 205 L148.6 204.1 L149.1 204.7 L149.6 204.4 L150.1 205 L150.6 204 L151.1 204.5 L151.6 204.1 L152.1 205 L152.6 205.5 L153.1 204.5 L153.6 205.7 L154.1 205.2 L154.6 205.3 L155.1 205.6 L155.6 205.9 L156.1 205 L156.6 203.8 L157.1 203.7 L157.7 204.1 L158.2 205 L158.7 205.7 L159.2 204.9 L159.7 205.5 L160.2 203.7 L160.7 203.8 L161.2 204.2 L161.7 204.3 L162.2 203.4 L162.7 204 L163.2 203.5 L163.7 203.8 L164.2 205.2 L164.7 205.1 L165.2 204.5 L165.7 204.1 L166.2 203.3 L166.7 204.3 L167.2 204.4 L167.7 204.5 L168.2 205.1 L168.7 204.2 L169.2 204 L169.7 203.4 L170.2 204.4 L170.7 202.8 L171.2 203.3 L171.7 203.6 L172.2 203.6 L172.7 204 L173.2 202.9 L173.8 204.3 L174.3 204.4 L174.8 203.7 L175.3 203.3 L175.8 203.4 L176.3 203.6 L176.8 204.6 L177.3 203.6 L177.8 203.2 L178.3 204.4 L178.8 203.2 L179.3 203.3 L179.8 203.2 L180.3 203.1 L180.8 203.2 L181.3 202.9 L181.3 209.8 L180.8 209.2 L180.3 209.2 L179.8 209.1 L179.3 210.1 L178.8 209.3 L178.3 209.4 L177.8 209.1 L177.3 209.9 L176.8 209.7 L176.3 209.4 L175.8 209.1 L175.3 209.8 L174.8 209.1 L174.3 210.5 L173.8 209.8 L173.2 209.1 L172.7 210.2 L172.2 209.4 L171.7 209.8 L171.2 210 L170.7 208.9 L170.2 209.8 L169.7 209.1 L169.2 210 L168.7 210.5 L168.2 211 L167.7 211.3 L167.2 210.5 L166.7 210.6 L166.2 209.3 L165.7 209.8 L165.2 209.9 L164.7 210.7 L164.2 210.9 L163.7 210.4 L163.2 210 L162.7 209.5 L162.2 209.8 L161.7 209.9 L161.2 209.7 L160.7 209.6 L160.2 210.2 L159.7 211.2 L159.2 211 L158.7 211 L158.2 211.2 L157.7 210.9 L157.1 209.8 L156.6 210.4 L156.1 210.7 L155.6 211.3 L155.1 211.9 L154.6 210.6 L154.1 211.1 L153.6 211.6 L153.1 211.2 L152.6 211 L152.1 210.2 L151.6 210.4 L151.1 210 L150.6 210.8 L150.1 210.5 L149.6 210.2 L149.1 210.3 L148.6 210.3 L148.1 210 L147.6 209.6 L147.1 210.3 L146.6 210.4 L146.1 210.8 L145.6 211.1 L145.1 211 L144.6 211.4 L144.1 210.9 L143.6 210.5 L143.1 211.2 L142.6 210.2 L142.1 210.4 L141.6 210.2 L141 210.5 L140.5 210.4 L140 210.8 L139.5 210.3 L139 210.9 L138.5 211.5 L138 211.5 L137.5 212 L137 211.8 L136.5 211.6 L136 211.1 L135.5 211.5 L135 211.7 L134.5 210.7 L134 210.6 L133.5 210.7ZM181.3 260.1 L181.8 259.6 L182.3 260 L182.8 259.7 L183.3 259.8 L183.8 260.1 L184.3 259.8 L184.8 259.5 L185.3 259.6 L185.8 259.8 L186.3 259.7 L186.9 260.6 L187.4 260.1 L187.9 259.4 L188.4 259.7 L188.9 259 L189.4 259.2 L189.9 259.4 L190.4 259.6 L190.9 259.7 L191.4 259.7 L191.9 260.3 L192.4 259.8 L192.9 260.5 L193.4 260.2 L193.9 260.3 L194.4 260.3 L194.9 260.6 L195.4 260.2 L195.9 260.4 L196.4 260.8 L196.9 261 L197.5 260.3 L198 260.3 L198.5 260.7 L199 260.5 L199.5 260.6 L200 260.2 L200.5 260.4 L201 260.6 L201.5 260.3 L202 261 L202.5 260.7 L203 259.7 L203.5 260.1 L204 259.8 L204.5 260.1 L205 259.9 L205.5 261.3 L206 260.6 L206.5 260.3 L207 260 L207.5 259.2 L208 260.2 L208.6 260.6 L209.1 261.1 L209.6 260.7 L210.1 260.7 L210.6 261.4 L211.1 261 L211.6 260.5 L212.1 261.3 L212.6 261 L213.1 260.8 L213.6 260.7 L214.1 261 L214.6 261.3 L215.1 261.7 L215.6 261.6 L216.1 261.1 L216.6 260.6 L217.1 260.7 L217.6 260.3 L218.1 259.8 L218.6 260.2 L219.2 261 L219.7 261.1 L220.2 260.9 L220.7 261.1 L221.2 261.5 L221.7 260.9 L222.2 260 L222.7 260.6 L223.2 260.7 L223.7 260.6 L224.2 259.9 L224.2 262.7 L223.7 263.2 L223.2 263.4 L222.7 263.3 L222.2 262.9 L221.7 263.3 L221.2 264.1 L220.7 263.8 L220.2 263.7 L219.7 263.4 L219.2 263.5 L218.6 263.1 L218.1 262.6 L217.6 263.2 L217.1 263.2 L216.6 263.4 L216.1 263.5 L215.6 264.4 L215.1 263.9 L214.6 263.6 L214.1 263.4 L213.6 263.6 L213.1 263.2 L212.6 263.7 L212.1 263.9 L211.6 263.3 L211.1 263.4 L210.6 264.1 L210.1 263.8 L209.6 263.6 L209.1 263.8 L208.6 263.1 L208 262.7 L207.5 261.7 L207 262.4 L206.5 263 L206 263.6 L205.5 263.5 L205 262.3 L204.5 262.5 L204 262.5 L203.5 262.3 L203 262.7 L202.5 263.2 L202 263.5 L201.5 263.2 L201 263.3 L200.5 262.8 L200 262.5 L199.5 263 L199 263 L198.5 263.3 L198 262.9 L197.5 262.9 L196.9 263.4 L196.4 263.3 L195.9 263.6 L195.4 262.8 L194.9 263.1 L194.4 262.9 L193.9 262.8 L193.4 263 L192.9 262.9 L192.4 262.7 L191.9 262.8 L191.4 262.7 L190.9 262.3 L190.4 262.2 L189.9 261.8 L189.4 262 L188.9 261.9 L188.4 262.5 L187.9 262.2 L187.4 262.8 L186.9 263.3 L186.3 262.7 L185.8 262.4 L185.3 262.6 L184.8 262.2 L184.3 262.3 L183.8 262.7 L183.3 262.6 L182.8 262.6 L182.3 262.8 L181.8 262.6 L181.3 262.7ZM224.2 170.2 L224.7 170.2 L225.2 169.8 L225.7 168.9 L226.2 167.6 L226.7 167.5 L227.2 167.3 L227.7 167.6 L228.2 167.9 L228.7 167.4 L229.2 166.8 L229.7 166.2 L230.2 165.2 L230.7 165.6 L231.2 166.2 L231.7 165.1 L232.2 165.2 L232.7 165.6 L233.2 165.3 L233.7 164.3 L234.2 165 L234.7 164.8 L235.2 164.8 L235.8 164.5 L236.3 164.1 L236.8 164 L237.3 163.4 L237.8 163.3 L238.3 163.9 L238.8 164.1 L239.3 163.5 L239.8 164.3 L240.3 163.7 L240.8 164.2 L241.3 164.3 L241.8 163.8 L242.3 164.3 L242.8 164.7 L243.3 164.5 L243.8 163.7 L244.3 162.9 L244.8 163.2 L245.3 163.3 L245.8 163.5 L246.3 164.3 L246.8 163.6 L247.3 163.6 L247.8 163.5 L248.3 163.7 L248.8 164.1 L249.3 163.5 L249.8 163.9 L250.3 164.3 L250.8 164.6 L251.3 164.2 L251.8 164.4 L252.3 163.7 L252.8 164.1 L253.3 163.8 L253.8 163.5 L254.3 164.2 L254.8 163.8 L255.3 164 L255.8 163.8 L256.3 163.9 L256.8 163.9 L257.3 163.5 L257.8 163.4 L258.4 164.5 L258.9 163.8 L259.4 163.8 L259.9 164.4 L260.4 165 L260.9 164.6 L261.4 165.4 L261.9 165.1 L262.4 164.7 L262.9 164.5 L263.4 164.1 L263.9 164 L264.4 164.1 L264.9 163.6 L265.4 164.2 L265.9 164.7 L266.4 164.5 L266.9 163.7 L267.4 163.8 L267.9 163.7 L268.4 164.6 L268.9 163.5 L269.4 164.4 L269.4 168.4 L268.9 168.6 L268.4 168.3 L267.9 168.2 L267.4 168.2 L266.9 168.4 L266.4 168.8 L265.9 168.9 L265.4 167.7 L264.9 167.8 L264.4 167.9 L263.9 168 L263.4 167.9 L262.9 169 L262.4 169.7 L261.9 169.7 L261.4 169.8 L260.9 169 L260.4 168.9 L259.9 169 L259.4 168.5 L258.9 168.6 L258.4 168.6 L257.8 168.3 L257.3 167.4 L256.8 168.1 L256.3 167.6 L255.8 168.2 L255.3 168.2 L254.8 168.1 L254.3 168 L253.8 167.8 L253.3 168.9 L252.8 168.7 L252.3 168.2 L251.8 168.5 L251.3 168.9 L250.8 168.8 L250.3 168.5 L249.8 168.2 L249.3 167.9 L248.8 167.7 L248.3 167.6 L247.8 167.5 L247.3 168.3 L246.8 168.4 L246.3 167.9 L245.8 168.2 L245.3 167.5 L244.8 167.9 L244.3 167.8 L243.8 168.5 L243.3 168.6 L242.8 168.7 L242.3 168.6 L241.8 167.9 L241.3 168.6 L240.8 168.2 L240.3 168 L239.8 168.3 L239.3 167.9 L238.8 167.9 L238.3 167.9 L237.8 168.1 L237.3 167.6 L236.8 167.9 L236.3 168.7 L235.8 168.6 L235.2 169 L234.7 169.1 L234.2 168.8 L233.7 169.2 L233.2 169.7 L232.7 169.3 L232.2 169.6 L231.7 169.6 L231.2 170.5 L230.7 169.9 L230.2 169.5 L229.7 170.6 L229.2 170.8 L228.7 171.7 L228.2 171.7 L227.7 171.7 L227.2 171.9 L226.7 172.2 L226.2 171.8 L225.7 173.3 L225.2 174.4 L224.7 174.4 L224.2 174.5ZM269.4 257.8 L269.9 257.5 L270.4 257.2 L270.9 257 L271.4 257.8 L271.9 257 L272.4 257.2 L272.9 257.6 L273.4 257.3 L273.9 257.5 L274.4 257.8 L274.9 257.5 L275.4 257.8 L275.9 257.7 L276.4 257.9 L276.9 258 L277.4 258.2 L277.9 257.9 L278.4 258.5 L278.9 258.4 L279.4 258.7 L279.9 258.6 L280.4 258.7 L280.9 258.6 L281.4 258.3 L281.9 258.9 L282.4 258.8 L282.9 258.5 L283.4 259 L283.9 259.7 L284.4 258.4 L284.9 258 L285.4 257.6 L285.9 258 L286.4 258.2 L286.9 259.1 L287.4 258.1 L287.9 259.1 L288.4 258.7 L288.9 259 L289.4 259.2 L289.9 259.2 L290.4 258.7 L290.9 259 L291.4 259.5 L291.9 258.6 L292.5 258.9 L293 258.7 L293.5 258.8 L294 258.3 L294.5 257.9 L295 257.5 L295.5 258.5 L296 258.9 L296.5 258.6 L297 258.3 L297.5 258.4 L298 257.7 L298.5 258.6 L299 258.4 L299.5 259 L300 258.7 L300.5 258.2 L301 258 L301.5 257.5 L302 257.9 L302.5 257.7 L303 258.5 L303.5 258.9 L304 258.4 L304.5 258.6 L305 258.7 L305.5 259.2 L306 258.4 L306.5 259.1 L307 259 L307.5 258.9 L308 259.6 L308.5 259.9 L309 259.3 L309.5 259.6 L310 259.2 L310.5 259.1 L311 258.5 L311.5 258.5 L312 258 L312.5 258.5 L313 259.1 L313.5 258.3 L314 258.2 L314.5 258.7 L315 258.5 L315 261.5 L314.5 262.2 L314 261.9 L313.5 261.7 L313 262.7 L312.5 261.3 L312 261.3 L311.5 261.6 L311 261.3 L310.5 262.8 L310 262.4 L309.5 262.6 L309 262.4 L308.5 263.3 L308 262.8 L307.5 261.7 L307 262.3 L306.5 262 L306 261.8 L305.5 262.1 L305 261.6 L304.5 261.8 L304 261.8 L303.5 262.4 L303 261.9 L302.5 261.6 L302 261.4 L301.5 260.8 L301 261.5 L300.5 261.9 L300 262.3 L299.5 262.3 L299 262.2 L298.5 261.8 L298 261.5 L297.5 262 L297 261.5 L296.5 262.4 L296 262.1 L295.5 261.9 L295 261.2 L294.5 261.4 L294 261.5 L293.5 262.1 L293 261.8 L292.5 262.1 L291.9 261.8 L291.4 262.9 L290.9 262.6 L290.4 262.4 L289.9 262.3 L289.4 262.1 L288.9 262.2 L288.4 261.5 L287.9 262 L287.4 261.9 L286.9 262 L286.4 261.8 L285.9 261.2 L285.4 261 L284.9 261.8 L284.4 261.4 L283.9 262.6 L283.4 262.5 L282.9 261.8 L282.4 262.6 L281.9 262.3 L281.4 262.2 L280.9 262.5 L280.4 261.9 L279.9 262.1 L279.4 262.2 L278.9 261.7 L278.4 261.7 L277.9 261.2 L277.4 261.6 L276.9 261.5 L276.4 261.2 L275.9 260.7 L275.4 261.4 L274.9 260.8 L274.4 261.1 L273.9 261 L273.4 261.3 L272.9 261.1 L272.4 260.9 L271.9 260.4 L271.4 261.2 L270.9 260.3 L270.4 260.7 L269.9 260.9 L269.4 261.1ZM315 140.2 L315.5 137 L316 134.7 L316.5 132.6 L317 131.9 L317.5 130.6 L318 130 L318.5 129.4 L319 127.5 L319.5 126.7 L320 126.5 L320.5 126.1 L321 125.5 L321.5 124.8 L322 124.4 L322.6 124.3 L323.1 124.1 L323.6 124.1 L324.1 124.3 L324.6 124.1 L325.1 123.1 L325.6 123.4 L326.1 123.4 L326.6 123.1 L327.1 122.9 L327.6 123.2 L328.1 122.7 L328.6 123.4 L329.1 123 L329.6 122.5 L330.1 122.7 L330.6 122.6 L331.1 123.4 L331.6 123.4 L332.1 122.9 L332.6 123.5 L333.1 123 L333.6 122.7 L334.1 121.9 L334.6 121.7 L335.1 121.4 L335.6 122.4 L336.1 122.4 L336.6 122.1 L337.1 122.2 L337.6 123.3 L338.2 122.7 L338.7 123 L339.2 123.4 L339.7 122.6 L340.2 122.2 L340.7 122.8 L341.2 122.6 L341.7 122.6 L342.2 122.2 L342.7 122.4 L343.2 122.4 L343.7 123 L344.2 123.8 L344.7 124 L345.2 123.9 L345.7 123.5 L346.2 123.8 L346.7 123.7 L347.2 122.8 L347.7 122.8 L348.2 122.1 L348.7 122.5 L349.2 122.7 L349.7 121.9 L350.2 122.2 L350.7 122.3 L351.2 122.9 L351.7 123.4 L352.2 123.2 L352.8 123.7 L353.3 122.7 L353.8 122.3 L354.3 121.6 L354.8 122.7 L355.3 122.9 L355.8 122.3 L356.3 122.4 L356.8 122.3 L357.3 122.4 L357.8 122.2 L358.3 122.3 L358.8 122.2 L359.3 122.1 L359.8 123.4 L360.3 122.6 L360.3 127.2 L359.8 127.6 L359.3 126.8 L358.8 126.3 L358.3 126.5 L357.8 127.2 L357.3 126.5 L356.8 126.9 L356.3 127.1 L355.8 126.9 L355.3 127 L354.8 127.1 L354.3 126.6 L353.8 127 L353.3 127.6 L352.8 128.1 L352.2 127.5 L351.7 127.8 L351.2 127.3 L350.7 126.4 L350.2 127 L349.7 126.4 L349.2 126.5 L348.7 127.4 L348.2 126.5 L347.7 126.9 L347.2 127 L346.7 127.2 L346.2 127.9 L345.7 127.7 L345.2 128 L344.7 127.8 L344.2 127.8 L343.7 127.2 L343.2 127.3 L342.7 126.8 L342.2 126.8 L341.7 126.7 L341.2 126.4 L340.7 127 L340.2 126.6 L339.7 126.8 L339.2 127.8 L338.7 127.5 L338.2 126.7 L337.6 127.3 L337.1 126.7 L336.6 126.7 L336.1 126.9 L335.6 126.2 L335.1 125.6 L334.6 125.7 L334.1 126.7 L333.6 126.7 L333.1 127.1 L332.6 127.7 L332.1 127.2 L331.6 127.8 L331.1 127.2 L330.6 126.9 L330.1 127.1 L329.6 127 L329.1 127.3 L328.6 127.6 L328.1 127.3 L327.6 127.2 L327.1 127.7 L326.6 128 L326.1 128 L325.6 127.6 L325.1 128 L324.6 128.6 L324.1 128.5 L323.6 128.2 L323.1 129.1 L322.6 128.5 L322 128.5 L321.5 128.7 L321 129.8 L320.5 130 L320 131.2 L319.5 130.5 L319 131.5 L318.5 133.2 L318 134.5 L317.5 135.4 L317 135.9 L316.5 137.5 L316 138.7 L315.5 141 L315 144.1ZM360.3 258.2 L360.8 258.3 L361.3 258.8 L361.8 258 L362.3 258.2 L362.8 258.2 L363.3 257.7 L363.8 257.2 L364.4 257.4 L364.9 257.1 L365.4 257.8 L365.9 257.1 L366.4 257.8 L366.9 257.9 L367.4 258.2 L367.9 258.1 L368.4 258.1 L368.9 257.6 L369.4 258.7 L369.9 258 L370.4 258.2 L370.9 257.9 L371.5 258 L372 257.7 L372.5 257.6 L373 257.6 L373.5 258 L374 258.1 L374.5 257.5 L375 257.2 L375.5 257 L376 257.9 L376.5 258 L377 258.5 L377.5 259.2 L378 259.5 L378.6 259 L379.1 259 L379.6 259 L380.1 258.5 L380.6 258.8 L381.1 257.6 L381.6 257.9 L382.1 257.7 L382.6 257.2 L383.1 257.4 L383.6 257.8 L384.1 257.8 L384.6 258.1 L385.1 258.5 L385.7 258.2 L386.2 257.9 L386.7 257.6 L387.2 258.1 L387.7 258 L388.2 257.9 L388.7 257.5 L389.2 257.4 L389.2 260.8 L388.7 261.1 L388.2 261.6 L387.7 261.6 L387.2 260.9 L386.7 261.2 L386.2 261.5 L385.7 261.6 L385.1 261.1 L384.6 261.4 L384.1 260.8 L383.6 260.6 L383.1 261.1 L382.6 260.7 L382.1 260.8 L381.6 261.1 L381.1 261.5 L380.6 261.9 L380.1 261.7 L379.6 262.7 L379.1 262.6 L378.6 262.5 L378 263 L377.5 262.8 L377 262.1 L376.5 261.6 L376 261.5 L375.5 260.9 L375 260.6 L374.5 260.4 L374 261.1 L373.5 261 L373 261.1 L372.5 261.2 L372 261.5 L371.5 261.3 L370.9 261 L370.4 261.4 L369.9 261.1 L369.4 261.8 L368.9 261 L368.4 261.3 L367.9 261.5 L367.4 261.2 L366.9 261.2 L366.4 261 L365.9 260.8 L365.4 260.5 L364.9 260.9 L364.4 261 L363.8 260.5 L363.3 261.6 L362.8 261.5 L362.3 261.4 L361.8 261.4 L361.3 262.1 L360.8 261.6 L360.3 261.6ZM389.2 66 L389.7 66.2 L390.2 66.4 L390.7 65.4 L391.2 65.2 L391.7 64.6 L392.2 66 L392.7 64.7 L393.2 64.9 L393.7 64.8 L394.2 66.1 L394.7 65.1 L395.2 65.8 L395.7 65.6 L396.2 64.4 L396.7 64.9 L397.2 65.5 L397.7 66.2 L398.2 66.4 L398.7 66.4 L399.2 65.7 L399.7 66.1 L400.2 66.1 L400.7 65.3 L401.2 66.1 L401.7 66.1 L402.2 66.3 L402.7 65.9 L403.2 66.3 L403.7 66.4 L404.2 65.9 L404.7 66.4 L405.2 66.2 L405.7 65.4 L406.2 65.4 L406.7 64.9 L407.2 65.9 L407.7 65.5 L408.2 65.2 L408.7 64.9 L409.2 65.9 L409.7 65.9 L410.2 65.4 L410.7 66.3 L411.2 65.7 L411.7 65.6 L412.2 66 L412.7 66 L413.3 66.1 L413.8 65.6 L414.3 65 L414.8 66.1 L415.3 66.2 L415.8 65.8 L416.3 66.1 L416.8 65 L417.3 64.7 L417.8 64.1 L418.3 64.7 L418.8 65 L419.3 65.7 L419.8 64.1 L420.3 64.9 L420.8 65.1 L421.3 65.2 L421.8 65.4 L422.3 65.3 L422.8 64.6 L423.3 64.3 L423.8 64.4 L424.3 66.1 L424.8 66.2 L425.3 64.6 L425.8 65.4 L426.3 65.1 L426.8 65.5 L427.3 64.4 L427.8 65.4 L428.3 65.5 L428.8 64.5 L429.3 64.4 L429.8 65.1 L430.3 64.6 L430.8 65.1 L431.3 65.1 L431.8 64.1 L432.3 65.7 L432.8 65.3 L433.3 65.2 L433.8 66.4 L434.3 66 L434.8 65.8 L435.3 65.9 L435.8 66.6 L436.3 65.2 L436.8 65.2 L436.8 73.2 L436.3 73.1 L435.8 73.5 L435.3 72.6 L434.8 72.4 L434.3 72.6 L433.8 72.8 L433.3 72.7 L432.8 73.3 L432.3 72.4 L431.8 71.7 L431.3 71.7 L430.8 72.7 L430.3 71.7 L429.8 72.4 L429.3 71 L428.8 71.8 L428.3 72.3 L427.8 71.8 L427.3 71.6 L426.8 72.5 L426.3 71.8 L425.8 73.1 L425.3 72.3 L424.8 73.3 L424.3 73.2 L423.8 72.7 L423.3 72.7 L422.8 72.1 L422.3 72.2 L421.8 71.9 L421.3 72.3 L420.8 72.3 L420.3 71.6 L419.8 72.5 L419.3 72.8 L418.8 71.9 L418.3 72.6 L417.8 72.2 L417.3 71.6 L416.8 71.8 L416.3 73.9 L415.8 72.8 L415.3 72.9 L414.8 73.4 L414.3 72.7 L413.8 73.4 L413.3 73.3 L412.7 73 L412.2 73.1 L411.7 71.9 L411.2 73.4 L410.7 73.6 L410.2 72.4 L409.7 72.4 L409.2 72.6 L408.7 72.8 L408.2 72.4 L407.7 73.3 L407.2 72.5 L406.7 72.1 L406.2 72.7 L405.7 73.3 L405.2 72.5 L404.7 72.7 L404.2 74.2 L403.7 74.5 L403.2 73.8 L402.7 73.8 L402.2 72.8 L401.7 72.5 L401.2 72.7 L400.7 73.2 L400.2 73.2 L399.7 73 L399.2 73 L398.7 73.6 L398.2 73.5 L397.7 73 L397.2 72.2 L396.7 72.7 L396.2 71.3 L395.7 72.9 L395.2 73.6 L394.7 72.2 L394.2 72.1 L393.7 71.9 L393.2 73.2 L392.7 72.7 L392.2 73.4 L391.7 72.7 L391.2 72.1 L390.7 71.9 L390.2 72.9 L389.7 72.3 L389.2 73.3ZM436.8 259.7 L437.3 259.8 L437.8 260 L438.3 258.9 L438.8 258.5 L439.3 258.7 L439.8 259.6 L440.3 259.5 L440.8 259.4 L441.3 258.9 L441.8 258.7 L442.4 259.6 L442.9 259.8 L443.4 260.4 L443.9 260.4 L444.4 260.7 L444.9 260 L445.4 259.8 L445.9 260.5 L446.4 260 L446.9 260.1 L447.4 260 L447.9 260 L448.4 259.8 L448.9 258.8 L449.4 259.4 L449.9 259.5 L450.4 260 L450.9 259.2 L451.4 258.7 L451.9 259 L452.4 259.5 L453 259.4 L453.5 259.4 L454 259.8 L454.5 259.7 L455 260.3 L455.5 259.9 L456 259.6 L456.5 259.5 L457 259.4 L457.5 259.8 L458 259.9 L458.5 260.1 L459 259.4 L459.5 259.4 L460 259.1 L460.5 259.6 L461 259.6 L461.5 259.3 L462 259.7 L462.5 259.7 L463 259.2 L463.5 259.1 L464.1 258.9 L464.6 259.5 L465.1 260 L465.6 259.8 L466.1 259.7 L466.6 259.7 L467.1 258.9 L467.6 259.5 L468.1 259.2 L468.6 259.2 L469.1 259.4 L469.6 259 L470.1 258.9 L470.6 259.5 L471.1 259.3 L471.6 259.8 L472.1 259.7 L472.6 259.5 L473.1 259.3 L473.6 259.9 L474.1 259.9 L474.7 260.4 L475.2 260.5 L475.7 259.9 L476.2 260.3 L476.7 259.9 L477.2 259.7 L477.7 258.8 L478.2 259.4 L478.7 260 L479.2 259.5 L479.7 259.2 L479.7 262.9 L479.2 262.6 L478.7 263.2 L478.2 262.2 L477.7 262.4 L477.2 263.1 L476.7 263.4 L476.2 263.2 L475.7 263.6 L475.2 264 L474.7 263.5 L474.1 262.9 L473.6 263.3 L473.1 263 L472.6 263.1 L472.1 263 L471.6 262.9 L471.1 262.7 L470.6 262.7 L470.1 262.5 L469.6 262.1 L469.1 262.5 L468.6 262.4 L468.1 262.5 L467.6 262.4 L467.1 262.7 L466.6 262.8 L466.1 263 L465.6 262.5 L465.1 263.5 L464.6 262.8 L464.1 262.3 L463.5 262.4 L463 262.5 L462.5 262.9 L462 262.5 L461.5 262.4 L461 262.5 L460.5 263 L460 263.1 L459.5 263 L459 263.3 L458.5 263.4 L458 263.2 L457.5 262.9 L457 263 L456.5 262.5 L456 262.9 L455.5 263.7 L455 263.3 L454.5 263.4 L454 263 L453.5 262.6 L453 262.8 L452.4 262.7 L451.9 262.1 L451.4 262.5 L450.9 262.4 L450.4 263 L449.9 263.2 L449.4 263 L448.9 262.4 L448.4 262.5 L447.9 263 L447.4 263.4 L446.9 263.7 L446.4 263.7 L445.9 263.7 L445.4 263.5 L444.9 263.6 L444.4 263.8 L443.9 263.7 L443.4 263.4 L442.9 263.4 L442.4 263 L441.8 262 L441.3 262.4 L440.8 262.5 L440.3 263.3 L439.8 262.7 L439.3 262.5 L438.8 262.3 L438.3 262.2 L437.8 263 L437.3 262.9 L436.8 263.3Z" fill="#f00" stroke="#f00" stroke-width="0.6" stroke-linejoin="round"/><path d="M83.8 316H504.3M87.8 316V9.8M87.8 9.8H504.3M504.3 9.8V316M87.8 316v6.5M125.7 316v3.5M163.5 316v6.5M201.4 316v3.5M239.3 316v6.5M277.1 316v3.5M315 316v6.5M352.8 316v3.5M390.7 316v6.5M428.6 316v3.5M466.4 316v6.5M504.3 316v3.5M87.8 316h-7M87.8 288.1h-3.5M87.8 260.2h-7M87.8 232.3h-3.5M87.8 204.4h-7M87.8 176.5h-3.5M87.8 148.6h-7M87.8 120.7h-3.5M87.8 92.8h-7M87.8 64.9h-3.5M87.8 37h-7" fill="none" stroke="#1a1a1a" stroke-width="1.8"/><text x="77.6" y="320.2" font-size="12.6" text-anchor="end" font-family="Liberation Sans, sans-serif" fill="#1a1a1a">0,8</text><text x="77.6" y="264.4" font-size="12.6" text-anchor="end" font-family="Liberation Sans, sans-serif" fill="#1a1a1a">1,0</text><text x="77.6" y="208.6" font-size="12.6" text-anchor="end" font-family="Liberation Sans, sans-serif" fill="#1a1a1a">1,2</text><text x="77.6" y="152.8" font-size="12.6" text-anchor="end" font-family="Liberation Sans, sans-serif" fill="#1a1a1a">1,4</text><text x="77.6" y="97" font-size="12.6" text-anchor="end" font-family="Liberation Sans, sans-serif" fill="#1a1a1a">1,6</text><text x="77.6" y="41.2" font-size="12.6" text-anchor="end" font-family="Liberation Sans, sans-serif" fill="#1a1a1a">1,8</text><text x="87.8" y="337.4" font-size="12.6" text-anchor="middle" font-family="Liberation Sans, sans-serif" fill="#1a1a1a">0</text><text x="163.5" y="337.4" font-size="12.6" text-anchor="middle" font-family="Liberation Sans, sans-serif" fill="#1a1a1a">50</text><text x="239.3" y="337.4" font-size="12.6" text-anchor="middle" font-family="Liberation Sans, sans-serif" fill="#1a1a1a">100</text><text x="315" y="337.4" font-size="12.6" text-anchor="middle" font-family="Liberation Sans, sans-serif" fill="#1a1a1a">150</text><text x="390.7" y="337.4" font-size="12.6" text-anchor="middle" font-family="Liberation Sans, sans-serif" fill="#1a1a1a">200</text><text x="466.4" y="337.4" font-size="12.6" text-anchor="middle" font-family="Liberation Sans, sans-serif" fill="#1a1a1a">250</text><text x="257.6" y="363.6" font-size="16.5" textLength="77.6" lengthAdjust="spacingAndGlyphs" font-family="Liberation Sans, sans-serif" fill="#1a1a1a">Time (min)</text><g transform="translate(38.8,242.2) rotate(-90)"><text x="0" y="0" font-size="16" textLength="130.8" lengthAdjust="spacingAndGlyphs" font-family="Liberation Sans, sans-serif" fill="#1a1a1a">Response (R<tspan font-size="10.5" dy="4.3">g</tspan><tspan dy="-4.3">/R</tspan><tspan font-size="10.5" dy="4.3">a</tspan><tspan dy="-4.3">)</tspan></text></g><rect x="91" y="12" width="296.5" height="44" fill="#fff" stroke="#888" stroke-width="1.2"/><path d="M102 22H135.6" stroke="#555" stroke-width="1"/><path d="M102 44H135.6" stroke="#f44" stroke-width="1"/><text x="140.6" y="26.6" font-size="14.4" textLength="224.6" lengthAdjust="spacingAndGlyphs" font-family="Liberation Sans, sans-serif" fill="#1a1a1a">TiO<tspan font-size="10" dy="5">2</tspan><tspan dy="-5">-NTs having 5-6 µm thickness</tspan></text><text x="140.6" y="48.9" font-size="14.4" textLength="241" lengthAdjust="spacingAndGlyphs" font-family="Liberation Sans, sans-serif" fill="#1a1a1a">TiO<tspan font-size="10" dy="5">2</tspan><tspan dy="-5">-NTs having 11-12 µm thickness</tspan></text><path d="M592.4 345.7H1016.6M596.4 345.7V7.2M596.4 7.2H1016.6M1016.6 7.2V345.7M596.4 345.7v6.5M634.6 345.7v3.5M672.8 345.7v6.5M711 345.7v3.5M749.2 345.7v6.5M787.4 345.7v3.5M825.6 345.7v6.5M863.8 345.7v3.5M902 345.7v6.5M940.2 345.7v3.5M978.4 345.7v6.5M1016.6 345.7v3.5M596.4 344.9h-3.5M596.4 316.8h-7M596.4 288.7h-3.5M596.4 260.6h-7M596.4 232.5h-3.5M596.4 204.4h-7M596.4 176.3h-3.5M596.4 148.2h-7M596.4 120.1h-3.5M596.4 92h-7M596.4 63.9h-3.5M596.4 35.8h-7M596.4 7.7h-3.5" fill="none" stroke="#1a1a1a" stroke-width="1.8"/><text x="584" y="321.1" font-size="12.6" text-anchor="end" font-family="Liberation Sans, sans-serif" fill="#1a1a1a">1.4</text><text x="584" y="264.9" font-size="12.6" text-anchor="end" font-family="Liberation Sans, sans-serif" fill="#1a1a1a">1.6</text><text x="584" y="208.7" font-size="12.6" text-anchor="end" font-family="Liberation Sans, sans-serif" fill="#1a1a1a">1.8</text><text x="584" y="152.5" font-size="12.6" text-anchor="end" font-family="Liberation Sans, sans-serif" fill="#1a1a1a">2.0</text><text x="584" y="96.3" font-size="12.6" text-anchor="end" font-family="Liberation Sans, sans-serif" fill="#1a1a1a">2.2</text><text x="584" y="40.1" font-size="12.6" text-anchor="end" font-family="Liberation Sans, sans-serif" fill="#1a1a1a">2.4</text><text x="595.8" y="367" font-size="12.6" text-anchor="middle" font-family="Liberation Sans, sans-serif" fill="#1a1a1a">0</text><text x="672.2" y="367" font-size="12.6" text-anchor="middle" font-family="Liberation Sans, sans-serif" fill="#1a1a1a">20</text><text x="748.6" y="367" font-size="12.6" text-anchor="middle" font-family="Liberation Sans, sans-serif" fill="#1a1a1a">40</text><text x="825" y="367" font-size="12.6" text-anchor="middle" font-family="Liberation Sans, sans-serif" fill="#1a1a1a">60</text><text x="901.4" y="367" font-size="12.6" text-anchor="middle" font-family="Liberation Sans, sans-serif" fill="#1a1a1a">80</text><text x="977.8" y="367" font-size="12.6" text-anchor="middle" font-family="Liberation Sans, sans-serif" fill="#1a1a1a">100</text><text x="731.6" y="393.6" font-size="15.8" textLength="149" lengthAdjust="spacingAndGlyphs" font-family="Liberation Sans, sans-serif" fill="#1a1a1a">Concentration (ppm)</text><g transform="translate(553.6,260.1) rotate(-90)"><text x="0" y="0" font-size="15.6" textLength="144.2" lengthAdjust="spacingAndGlyphs" font-family="Liberation Sans, sans-serif" fill="#1a1a1a">Response, S (R<tspan font-size="10.3" dy="4.3">g</tspan><tspan dy="-4.3">/R</tspan><tspan font-size="10.3" dy="4.3">a</tspan><tspan dy="-4.3">)</tspan></text></g><path d="M634.6 316.2 L638.1 315.5 L641.5 314.9 L645 314.3 L648.5 313.7 L651.9 313.1 L655.4 312.5 L658.9 311.9 L662.4 311.4 L665.8 310.9 L669.3 310.3 L672.8 309.8 L676.2 309.3 L679.7 308.9 L683.2 308.4 L686.6 307.9 L690.1 307.5 L693.6 307.1 L697.1 306.7 L700.5 306.2 L704 305.8 L707.5 305.5 L710.9 305.1 L714.4 304.7 L717.9 304.4 L721.3 304 L724.8 303.7 L728.3 303.3 L731.8 303 L735.2 302.7 L738.7 302.4 L742.2 302.1 L745.6 301.8 L749.1 301.5 L752.6 301.3 L756 301 L759.5 300.7 L763 300.5 L766.4 300.2 L769.9 300 L773.4 299.7 L776.9 299.5 L780.3 299.3 L783.8 299.1 L787.3 298.9 L790.7 298.7 L794.2 298.5 L797.7 298.3 L801.1 298.1 L804.6 297.9 L808.1 297.7 L811.6 297.5 L815 297.4 L818.5 297.2 L822 297 L825.4 296.9 L828.9 296.7 L832.4 296.6 L835.8 296.4 L839.3 296.3 L842.8 296.1 L846.3 296 L849.7 295.9 L853.2 295.8 L856.7 295.6 L860.1 295.5 L863.6 295.4 L867.1 295.3 L870.5 295.2 L874 295.1 L877.5 294.9 L880.9 294.8 L884.4 294.7 L887.9 294.6 L891.4 294.5 L894.8 294.5 L898.3 294.4 L901.8 294.3 L905.2 294.2 L908.7 294.1 L912.2 294 L915.6 293.9 L919.1 293.9 L922.6 293.8 L926.1 293.7 L929.5 293.6 L933 293.6 L936.5 293.5 L939.9 293.4 L943.4 293.4 L946.9 293.3 L950.3 293.2 L953.8 293.2 L957.3 293.1 L960.8 293.1 L964.2 293 L967.7 293 L971.2 292.9 L974.6 292.9 L978.1 292.8" fill="none" stroke="#707070" stroke-width="1.3"/><path d="M634.6 317.5 L637.1 313.6 L639.5 309.7 L642 305.7 L644.5 301.8 L647 297.8 L649.4 294 L651.9 290.1 L654.4 286.4 L656.9 282.7 L659.3 279 L661.8 275.4 L664.3 271.9 L666.7 268.5 L669.2 265.1 L671.7 261.8 L674.2 258.5 L676.6 255.3 L679.1 252.2 L681.6 249.1 L684.1 246.1 L686.5 243.1 L689 240.2 L691.5 237.4 L693.9 234.6 L696.4 231.9 L698.9 229.2 L701.4 226.6 L703.8 224 L706.3 221.4 L708.8 219 L711.3 216.5 L713.7 214.1 L716.2 211.8 L718.7 209.5 L721.1 207.2 L723.6 205 L726.1 202.8 L728.6 200.7 L731 198.6 L733.5 196.5 L736 194.5 L738.5 192.5 L740.9 190.6 L743.4 188.7 L745.9 186.8 L748.3 184.9 L750.8 183.1 L753.3 181.3 L755.8 179.6 L758.2 177.9 L760.7 176.2 L763.2 174.5 L765.7 172.9 L768.1 171.3 L770.6 169.7 L773.1 168.2 L775.5 166.7 L778 165.2 L780.5 163.7 L783 162.3 L785.4 160.9 L787.9 159.5 L790.4 158.1 L792.9 156.8 L795.3 155.4 L797.8 154.1 L800.3 152.9 L802.7 151.6 L805.2 150.4 L807.7 149.1 L810.2 147.9 L812.6 146.8 L815.1 145.6 L817.6 144.5 L820 143.3 L822.5 142.2 L825 141.1 L827.5 140.1 L829.9 139 L832.4 137.9 L834.9 136.9 L837.4 135.9 L839.8 134.9 L842.3 133.9 L844.8 133 L847.2 132 L849.7 131 L852.2 130.1 L854.7 129.2 L857.1 128.3 L859.6 127.4 L862.1 126.5 L864.6 125.6 L867 124.8 L869.5 123.9 L872 123.1 L874.4 122.2 L876.9 121.4 L879.4 120.6 L881.9 119.8 L884.3 119 L886.8 118.2 L889.3 117.4 L891.8 116.7 L894.2 115.9 L896.7 115.1 L899.2 114.4 L901.6 113.6 L904.1 112.9 L906.6 112.2 L909.1 111.4 L911.5 110.7 L914 110 L916.5 109.3 L919 108.6 L921.4 107.9 L923.9 107.2 L926.4 106.5 L928.8 105.8 L931.3 105.1 L933.8 104.4 L936.3 103.8 L938.7 103.1 L941.2 102.4 L943.7 101.7 L946.2 101.1 L948.6 100.4 L951.1 99.7 L953.6 99.1 L956 98.4 L958.5 97.8 L961 97.1 L963.5 96.4 L965.9 95.8 L968.4 95.1 L970.9 94.5 L973.4 93.8 L975.8 93.1 L978.3 92.5" fill="none" stroke="#f8846c" stroke-width="1.3"/><path d="M634.6 312 L637.1 307.2 L639.5 302.6 L642 298 L644.5 293.6 L647 289.3 L649.4 285 L651.9 280.9 L654.4 276.9 L656.8 273 L659.3 269.2 L661.8 265.5 L664.2 262 L666.7 258.5 L669.2 255.1 L671.7 251.8 L674.1 248.5 L676.6 245.4 L679.1 242.3 L681.5 239.4 L684 236.5 L686.5 233.7 L689 230.9 L691.4 228.3 L693.9 225.7 L696.4 223.1 L698.8 220.6 L701.3 218.2 L703.8 215.9 L706.2 213.6 L708.7 211.4 L711.2 209.2 L713.7 207.1 L716.1 205.1 L718.6 203 L721.1 201.1 L723.5 199.2 L726 197.3 L728.5 195.5 L730.9 193.8 L733.4 192 L735.9 190.4 L738.4 188.7 L740.8 187.1 L743.3 185.6 L745.8 184.1 L748.2 182.6 L750.7 181.2 L753.2 179.7 L755.7 178.4 L758.1 177 L760.6 175.7 L763.1 174.5 L765.5 173.2 L768 172 L770.5 170.9 L772.9 169.7 L775.4 168.6 L777.9 167.5 L780.4 166.4 L782.8 165.4 L785.3 164.4 L787.8 163.4 L790.2 162.4 L792.7 161.5 L795.2 160.6 L797.7 159.7 L800.1 158.8 L802.6 157.9 L805.1 157.1 L807.5 156.3 L810 155.5 L812.5 154.7 L814.9 153.9 L817.4 153.2 L819.9 152.4 L822.4 151.7 L824.8 151 L827.3 150.3 L829.8 149.7 L832.2 149 L834.7 148.4 L837.2 147.7 L839.7 147.1 L842.1 146.5 L844.6 145.9 L847.1 145.3 L849.5 144.8 L852 144.2 L854.5 143.6 L856.9 143.1 L859.4 142.6 L861.9 142 L864.4 141.5 L866.8 141 L869.3 140.5 L871.8 140 L874.2 139.5 L876.7 139 L879.2 138.5 L881.7 138 L884.1 137.6 L886.6 137.1 L889.1 136.6 L891.5 136.2 L894 135.7 L896.5 135.3 L898.9 134.8 L901.4 134.4 L903.9 133.9 L906.4 133.5 L908.8 133 L911.3 132.6 L913.8 132.2 L916.2 131.7 L918.7 131.3 L921.2 130.8 L923.6 130.4 L926.1 129.9 L928.6 129.5 L931.1 129.1 L933.5 128.6 L936 128.2 L938.5 127.7 L940.9 127.2 L943.4 126.8 L945.9 126.3 L948.4 125.9 L950.8 125.4 L953.3 124.9 L955.8 124.4 L958.2 124 L960.7 123.5 L963.2 123 L965.6 122.5 L968.1 122 L970.6 121.5 L973.1 121 L975.5 120.5 L978 119.9" fill="none" stroke="#8494f8" stroke-width="1.3"/><path d="M634.6 313.6 L637.1 309.8 L639.5 305.8 L642 301.7 L644.5 297.5 L647 293.4 L649.4 289.3 L651.9 285.2 L654.4 281.2 L656.8 277.3 L659.3 273.4 L661.8 269.6 L664.2 265.9 L666.7 262.2 L669.2 258.6 L671.7 255.1 L674.1 251.7 L676.6 248.3 L679.1 245 L681.5 241.8 L684 238.6 L686.5 235.6 L689 232.6 L691.4 229.6 L693.9 226.8 L696.4 223.9 L698.8 221.2 L701.3 218.5 L703.8 215.9 L706.2 213.3 L708.7 210.9 L711.2 208.4 L713.7 206 L716.1 203.7 L718.6 201.4 L721.1 199.2 L723.5 197.1 L726 194.9 L728.5 192.9 L730.9 190.9 L733.4 188.9 L735.9 187 L738.4 185.1 L740.8 183.3 L743.3 181.5 L745.8 179.8 L748.2 178.1 L750.7 176.4 L753.2 174.8 L755.7 173.2 L758.1 171.7 L760.6 170.2 L763.1 168.7 L765.5 167.3 L768 165.9 L770.5 164.5 L772.9 163.2 L775.4 161.9 L777.9 160.7 L780.4 159.5 L782.8 158.3 L785.3 157.1 L787.8 156 L790.2 154.8 L792.7 153.8 L795.2 152.7 L797.7 151.7 L800.1 150.7 L802.6 149.7 L805.1 148.8 L807.5 147.8 L810 146.9 L812.5 146.1 L814.9 145.2 L817.4 144.4 L819.9 143.6 L822.4 142.8 L824.8 142 L827.3 141.2 L829.8 140.5 L832.2 139.8 L834.7 139.1 L837.2 138.4 L839.7 137.8 L842.1 137.1 L844.6 136.5 L847.1 135.9 L849.5 135.3 L852 134.7 L854.5 134.1 L856.9 133.5 L859.4 133 L861.9 132.5 L864.4 131.9 L866.8 131.4 L869.3 130.9 L871.8 130.4 L874.2 130 L876.7 129.5 L879.2 129 L881.7 128.6 L884.1 128.2 L886.6 127.7 L889.1 127.3 L891.5 126.9 L894 126.5 L896.5 126.1 L898.9 125.7 L901.4 125.3 L903.9 124.9 L906.4 124.6 L908.8 124.2 L911.3 123.8 L913.8 123.5 L916.2 123.1 L918.7 122.8 L921.2 122.4 L923.6 122.1 L926.1 121.7 L928.6 121.4 L931.1 121.1 L933.5 120.7 L936 120.4 L938.5 120.1 L940.9 119.7 L943.4 119.4 L945.9 119.1 L948.4 118.7 L950.8 118.4 L953.3 118.1 L955.8 117.7 L958.2 117.4 L960.7 117.1 L963.2 116.7 L965.6 116.4 L968.1 116.1 L970.6 115.7 L973.1 115.4 L975.5 115 L978 114.7" fill="none" stroke="#ff8cff" stroke-width="1.3"/><rect x="630.5" y="312.9" width="7.8" height="7.8" fill="#000"/><rect x="687.7" y="301.7" width="7.8" height="7.8" fill="#000"/><rect x="783.4" y="296.5" width="7.8" height="7.8" fill="#000"/><rect x="974.2" y="288.4" width="7.8" height="7.8" fill="#000"/><circle cx="634.3" cy="317.2" r="4.1" fill="#ff2000"/><circle cx="691.8" cy="232.8" r="4.1" fill="#ff2000"/><circle cx="787.5" cy="145.7" r="4.1" fill="#ff2000"/><circle cx="978.3" cy="92.1" r="4.1" fill="#ff2000"/><path d="M634.3 306.2l5 8h-10z" fill="#0018ff"/><path d="M691.7 210.8l5 8h-10z" fill="#0018ff"/><path d="M787.4 148.9l5 8h-10z" fill="#0018ff"/><path d="M978.4 115.8l5 8h-10z" fill="#0018ff"/><path d="M629.3 311.7h10l-5 8z" fill="#ff22ff"/><path d="M686.7 218.8h10l-5 8z" fill="#ff22ff"/><path d="M782.5 137h10l-5 8z" fill="#ff22ff"/><path d="M973.5 111.5h10l-5 8z" fill="#ff22ff"/><rect x="603.5" y="15" width="99.5" height="84" fill="#fff" stroke="#888" stroke-width="1.2"/><path d="M613 29.5H649.2" stroke="#707070" stroke-width="1"/><rect x="627.1" y="25.6" width="7.8" height="7.8" fill="#000"/><text x="653.2" y="34.5" font-size="14.8" font-family="Liberation Sans, sans-serif" fill="#1a1a1a">6</text><text x="667" y="34.5" font-size="14.8" font-family="Liberation Sans, sans-serif" fill="#1a1a1a">μm</text><path d="M613 49.6H649.2" stroke="#f8846c" stroke-width="1"/><circle cx="631" cy="49.6" r="4.1" fill="#ff2000"/><text x="653.2" y="54.6" font-size="14.8" font-family="Liberation Sans, sans-serif" fill="#1a1a1a">12</text><text x="676.6" y="54.6" font-size="14.8" font-family="Liberation Sans, sans-serif" fill="#1a1a1a">μm</text><path d="M613 69.7H649.2" stroke="#8494f8" stroke-width="1"/><path d="M631 65.2l5 8h-10z" fill="#0018ff"/><text x="653.2" y="74.7" font-size="14.8" font-family="Liberation Sans, sans-serif" fill="#1a1a1a">18</text><text x="676.6" y="74.7" font-size="14.8" font-family="Liberation Sans, sans-serif" fill="#1a1a1a">μm</text><path d="M613 89.8H649.2" stroke="#ff8cff" stroke-width="1"/><path d="M626 86h10l-5 8z" fill="#ff22ff"/><text x="653.2" y="94.8" font-size="14.8" font-family="Liberation Sans, sans-serif" fill="#1a1a1a">24</text><text x="676.6" y="94.8" font-size="14.8" font-family="Liberation Sans, sans-serif" fill="#1a1a1a">μm</text><rect x="8.3" y="351.4" width="67" height="63.5" fill="#fff" stroke="#000" stroke-width="1.5"/><text x="25.7" y="381" font-size="22" textLength="25.7" lengthAdjust="spacingAndGlyphs" font-family="Liberation Sans, sans-serif" fill="#000" stroke="#000" stroke-width="0.75">(a)</text><rect x="518.5" y="351.4" width="67.2" height="63.2" fill="#fff" stroke="#000" stroke-width="1.5"/><text x="536.3" y="381" font-size="22" textLength="26.7" lengthAdjust="spacingAndGlyphs" font-family="Liberation Sans, sans-serif" fill="#000" stroke="#000" stroke-width="0.75">(b)</text></svg>
</body></html>
